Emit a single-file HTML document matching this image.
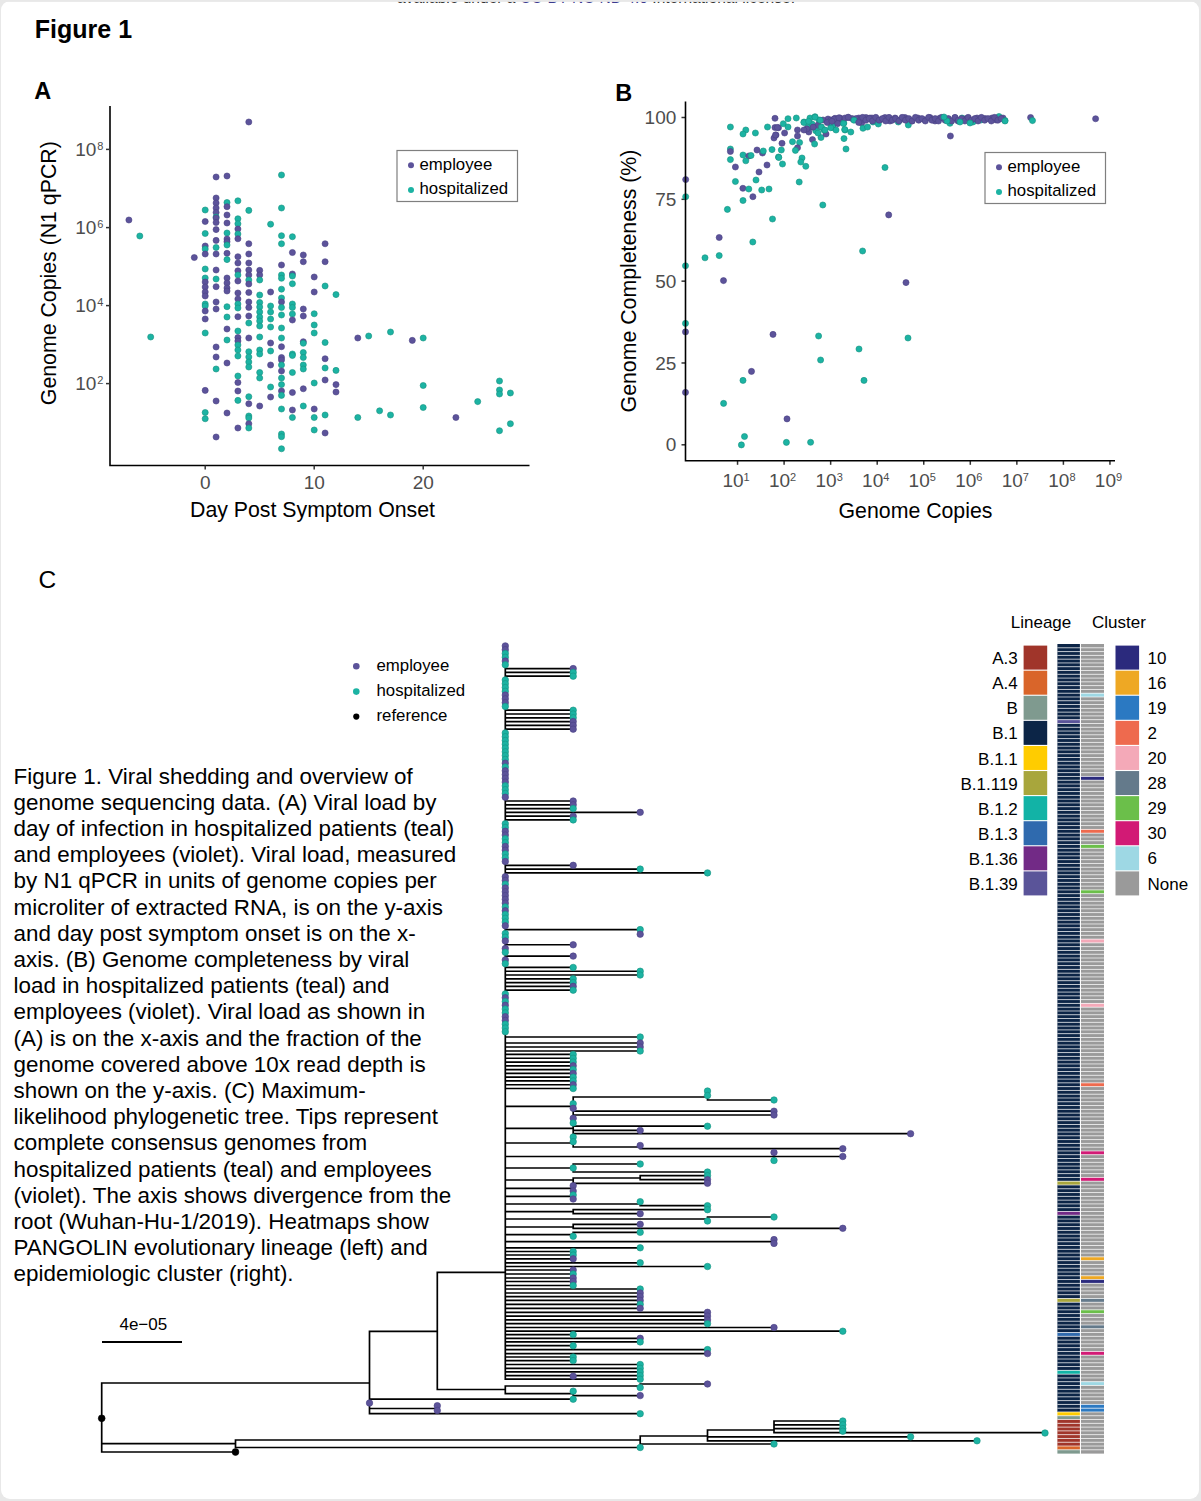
<!DOCTYPE html><html><head><meta charset="utf-8"><style>html,body{margin:0;padding:0;background:#e8e8e8;}body{width:1201px;height:1501px;overflow:hidden;position:relative;}#card{position:absolute;left:1px;top:1px;width:1198px;height:1498px;background:#fff;border-radius:9px;}svg{position:absolute;left:0;top:0;}text{font-family:"Liberation Sans",sans-serif;}</style></head><body><div id="card"></div>
<svg width="1201" height="1501" viewBox="0 0 1201 1501" font-family='"Liberation Sans", sans-serif'>
<text x="397" y="3.2" font-size="17" fill="#333" textLength="398" lengthAdjust="spacingAndGlyphs">available under a <tspan fill="#3b3b8f">CC-BY-NC-ND 4.0</tspan> International license.</text>
<rect x="0" y="0" width="1201" height="1.9" fill="#e8e8e8"/>
<text x="34.8" y="37.8" font-size="25" font-weight="bold">Figure 1</text>
<text x="34.2" y="99" font-size="23.5" font-weight="bold">A</text>
<text x="615.3" y="100.8" font-size="23.5" font-weight="bold">B</text>
<text x="38.4" y="588.2" font-size="24.5">C</text>
<g id="pa">
<path d="M110 106V465.5H529.5" fill="none" stroke="#000" stroke-width="1.6"/>
<path d="M106 149.4 H110" stroke="#333" stroke-width="1.5"/>
<text x="96.3" y="155.8" font-size="19" fill="#4d4d4d" text-anchor="end">10</text>
<text x="97.3" y="150" font-size="11" fill="#4d4d4d">8</text>
<path d="M106 227.6 H110" stroke="#333" stroke-width="1.5"/>
<text x="96.3" y="234" font-size="19" fill="#4d4d4d" text-anchor="end">10</text>
<text x="97.3" y="228.2" font-size="11" fill="#4d4d4d">6</text>
<path d="M106 305.6 H110" stroke="#333" stroke-width="1.5"/>
<text x="96.3" y="312" font-size="19" fill="#4d4d4d" text-anchor="end">10</text>
<text x="97.3" y="306.2" font-size="11" fill="#4d4d4d">4</text>
<path d="M106 383.6 H110" stroke="#333" stroke-width="1.5"/>
<text x="96.3" y="390" font-size="19" fill="#4d4d4d" text-anchor="end">10</text>
<text x="97.3" y="384.2" font-size="11" fill="#4d4d4d">2</text>
<path d="M205.2 465.5V469.5" stroke="#333" stroke-width="1.5"/>
<text x="205.2" y="488.8" font-size="19" fill="#4d4d4d" text-anchor="middle">0</text>
<path d="M314.2 465.5V469.5" stroke="#333" stroke-width="1.5"/>
<text x="314.2" y="488.8" font-size="19" fill="#4d4d4d" text-anchor="middle">10</text>
<path d="M423.2 465.5V469.5" stroke="#333" stroke-width="1.5"/>
<text x="423.2" y="488.8" font-size="19" fill="#4d4d4d" text-anchor="middle">20</text>
<text x="312.5" y="516.6" font-size="21.3" text-anchor="middle">Day Post Symptom Onset</text>
<text transform="translate(56.3 273.2) rotate(-90)" font-size="21.3" text-anchor="middle">Genome Copies (N1 qPCR)</text>
<circle cx="128.9" cy="220" r="3.05" fill="#5c539a" stroke="#4a4284" stroke-width="0.6"/>
<circle cx="139.8" cy="236" r="3.05" fill="#1cb3a3" stroke="#16927f" stroke-width="0.6"/>
<circle cx="150.7" cy="337" r="3.05" fill="#1cb3a3" stroke="#16927f" stroke-width="0.6"/>
<circle cx="194.3" cy="257.5" r="3.05" fill="#5c539a" stroke="#4a4284" stroke-width="0.6"/>
<circle cx="205.2" cy="210" r="3.05" fill="#1cb3a3" stroke="#16927f" stroke-width="0.6"/>
<circle cx="205.2" cy="221.5" r="3.05" fill="#5c539a" stroke="#4a4284" stroke-width="0.6"/>
<circle cx="205.2" cy="233.5" r="3.05" fill="#1cb3a3" stroke="#16927f" stroke-width="0.6"/>
<circle cx="205.2" cy="246" r="3.05" fill="#5c539a" stroke="#4a4284" stroke-width="0.6"/>
<circle cx="205.2" cy="249" r="3.05" fill="#1cb3a3" stroke="#16927f" stroke-width="0.6"/>
<circle cx="205.2" cy="254" r="3.05" fill="#5c539a" stroke="#4a4284" stroke-width="0.6"/>
<circle cx="205.2" cy="269" r="3.05" fill="#1cb3a3" stroke="#16927f" stroke-width="0.6"/>
<circle cx="205.2" cy="278" r="3.05" fill="#1cb3a3" stroke="#16927f" stroke-width="0.6"/>
<circle cx="205.2" cy="282" r="3.05" fill="#5c539a" stroke="#4a4284" stroke-width="0.6"/>
<circle cx="205.2" cy="287" r="3.05" fill="#5c539a" stroke="#4a4284" stroke-width="0.6"/>
<circle cx="205.2" cy="292" r="3.05" fill="#5c539a" stroke="#4a4284" stroke-width="0.6"/>
<circle cx="205.2" cy="296" r="3.05" fill="#5c539a" stroke="#4a4284" stroke-width="0.6"/>
<circle cx="205.2" cy="304" r="3.05" fill="#1cb3a3" stroke="#16927f" stroke-width="0.6"/>
<circle cx="205.2" cy="306" r="3.05" fill="#1cb3a3" stroke="#16927f" stroke-width="0.6"/>
<circle cx="205.2" cy="311" r="3.05" fill="#5c539a" stroke="#4a4284" stroke-width="0.6"/>
<circle cx="205.2" cy="319" r="3.05" fill="#5c539a" stroke="#4a4284" stroke-width="0.6"/>
<circle cx="205.2" cy="333" r="3.05" fill="#1cb3a3" stroke="#16927f" stroke-width="0.6"/>
<circle cx="205.2" cy="390.4" r="3.05" fill="#5c539a" stroke="#4a4284" stroke-width="0.6"/>
<circle cx="205.2" cy="412.5" r="3.05" fill="#1cb3a3" stroke="#16927f" stroke-width="0.6"/>
<circle cx="205.2" cy="418.75" r="3.05" fill="#1cb3a3" stroke="#16927f" stroke-width="0.6"/>
<circle cx="216.1" cy="177" r="3.05" fill="#5c539a" stroke="#4a4284" stroke-width="0.6"/>
<circle cx="216.1" cy="198" r="3.05" fill="#5c539a" stroke="#4a4284" stroke-width="0.6"/>
<circle cx="216.1" cy="203" r="3.05" fill="#5c539a" stroke="#4a4284" stroke-width="0.6"/>
<circle cx="216.1" cy="208" r="3.05" fill="#5c539a" stroke="#4a4284" stroke-width="0.6"/>
<circle cx="216.1" cy="212.5" r="3.05" fill="#5c539a" stroke="#4a4284" stroke-width="0.6"/>
<circle cx="216.1" cy="217" r="3.05" fill="#1cb3a3" stroke="#16927f" stroke-width="0.6"/>
<circle cx="216.1" cy="218" r="3.05" fill="#5c539a" stroke="#4a4284" stroke-width="0.6"/>
<circle cx="216.1" cy="222.5" r="3.05" fill="#5c539a" stroke="#4a4284" stroke-width="0.6"/>
<circle cx="216.1" cy="229.6" r="3.05" fill="#5c539a" stroke="#4a4284" stroke-width="0.6"/>
<circle cx="216.1" cy="240.4" r="3.05" fill="#5c539a" stroke="#4a4284" stroke-width="0.6"/>
<circle cx="216.1" cy="247.5" r="3.05" fill="#1cb3a3" stroke="#16927f" stroke-width="0.6"/>
<circle cx="216.1" cy="254" r="3.05" fill="#5c539a" stroke="#4a4284" stroke-width="0.6"/>
<circle cx="216.1" cy="270" r="3.05" fill="#5c539a" stroke="#4a4284" stroke-width="0.6"/>
<circle cx="216.1" cy="279" r="3.05" fill="#1cb3a3" stroke="#16927f" stroke-width="0.6"/>
<circle cx="216.1" cy="286.7" r="3.05" fill="#5c539a" stroke="#4a4284" stroke-width="0.6"/>
<circle cx="216.1" cy="302" r="3.05" fill="#5c539a" stroke="#4a4284" stroke-width="0.6"/>
<circle cx="216.1" cy="309" r="3.05" fill="#5c539a" stroke="#4a4284" stroke-width="0.6"/>
<circle cx="216.1" cy="347" r="3.05" fill="#5c539a" stroke="#4a4284" stroke-width="0.6"/>
<circle cx="216.1" cy="357" r="3.05" fill="#5c539a" stroke="#4a4284" stroke-width="0.6"/>
<circle cx="216.1" cy="369" r="3.05" fill="#1cb3a3" stroke="#16927f" stroke-width="0.6"/>
<circle cx="216.1" cy="401" r="3.05" fill="#5c539a" stroke="#4a4284" stroke-width="0.6"/>
<circle cx="216.1" cy="437" r="3.05" fill="#5c539a" stroke="#4a4284" stroke-width="0.6"/>
<circle cx="227" cy="176" r="3.05" fill="#5c539a" stroke="#4a4284" stroke-width="0.6"/>
<circle cx="227" cy="202.5" r="3.05" fill="#1cb3a3" stroke="#16927f" stroke-width="0.6"/>
<circle cx="227" cy="206.7" r="3.05" fill="#5c539a" stroke="#4a4284" stroke-width="0.6"/>
<circle cx="227" cy="215" r="3.05" fill="#5c539a" stroke="#4a4284" stroke-width="0.6"/>
<circle cx="227" cy="223" r="3.05" fill="#5c539a" stroke="#4a4284" stroke-width="0.6"/>
<circle cx="227" cy="233" r="3.05" fill="#1cb3a3" stroke="#16927f" stroke-width="0.6"/>
<circle cx="227" cy="239" r="3.05" fill="#5c539a" stroke="#4a4284" stroke-width="0.6"/>
<circle cx="227" cy="241.7" r="3.05" fill="#5c539a" stroke="#4a4284" stroke-width="0.6"/>
<circle cx="227" cy="245" r="3.05" fill="#1cb3a3" stroke="#16927f" stroke-width="0.6"/>
<circle cx="227" cy="253.3" r="3.05" fill="#5c539a" stroke="#4a4284" stroke-width="0.6"/>
<circle cx="227" cy="259.6" r="3.05" fill="#1cb3a3" stroke="#16927f" stroke-width="0.6"/>
<circle cx="227" cy="278" r="3.05" fill="#5c539a" stroke="#4a4284" stroke-width="0.6"/>
<circle cx="227" cy="283" r="3.05" fill="#5c539a" stroke="#4a4284" stroke-width="0.6"/>
<circle cx="227" cy="288" r="3.05" fill="#5c539a" stroke="#4a4284" stroke-width="0.6"/>
<circle cx="227" cy="291" r="3.05" fill="#5c539a" stroke="#4a4284" stroke-width="0.6"/>
<circle cx="227" cy="306.7" r="3.05" fill="#1cb3a3" stroke="#16927f" stroke-width="0.6"/>
<circle cx="227" cy="317" r="3.05" fill="#1cb3a3" stroke="#16927f" stroke-width="0.6"/>
<circle cx="227" cy="329" r="3.05" fill="#5c539a" stroke="#4a4284" stroke-width="0.6"/>
<circle cx="227" cy="340" r="3.05" fill="#1cb3a3" stroke="#16927f" stroke-width="0.6"/>
<circle cx="227" cy="363" r="3.05" fill="#5c539a" stroke="#4a4284" stroke-width="0.6"/>
<circle cx="227" cy="413" r="3.05" fill="#5c539a" stroke="#4a4284" stroke-width="0.6"/>
<circle cx="237.9" cy="200.8" r="3.05" fill="#1cb3a3" stroke="#16927f" stroke-width="0.6"/>
<circle cx="237.9" cy="218.75" r="3.05" fill="#1cb3a3" stroke="#16927f" stroke-width="0.6"/>
<circle cx="237.9" cy="223.75" r="3.05" fill="#1cb3a3" stroke="#16927f" stroke-width="0.6"/>
<circle cx="237.9" cy="229" r="3.05" fill="#5c539a" stroke="#4a4284" stroke-width="0.6"/>
<circle cx="237.9" cy="234" r="3.05" fill="#1cb3a3" stroke="#16927f" stroke-width="0.6"/>
<circle cx="237.9" cy="238.75" r="3.05" fill="#5c539a" stroke="#4a4284" stroke-width="0.6"/>
<circle cx="237.9" cy="256.7" r="3.05" fill="#5c539a" stroke="#4a4284" stroke-width="0.6"/>
<circle cx="237.9" cy="263" r="3.05" fill="#5c539a" stroke="#4a4284" stroke-width="0.6"/>
<circle cx="237.9" cy="270.8" r="3.05" fill="#5c539a" stroke="#4a4284" stroke-width="0.6"/>
<circle cx="237.9" cy="275" r="3.05" fill="#1cb3a3" stroke="#16927f" stroke-width="0.6"/>
<circle cx="237.9" cy="281" r="3.05" fill="#5c539a" stroke="#4a4284" stroke-width="0.6"/>
<circle cx="237.9" cy="293" r="3.05" fill="#5c539a" stroke="#4a4284" stroke-width="0.6"/>
<circle cx="237.9" cy="299" r="3.05" fill="#5c539a" stroke="#4a4284" stroke-width="0.6"/>
<circle cx="237.9" cy="304" r="3.05" fill="#1cb3a3" stroke="#16927f" stroke-width="0.6"/>
<circle cx="237.9" cy="308" r="3.05" fill="#1cb3a3" stroke="#16927f" stroke-width="0.6"/>
<circle cx="237.9" cy="316.7" r="3.05" fill="#5c539a" stroke="#4a4284" stroke-width="0.6"/>
<circle cx="237.9" cy="331" r="3.05" fill="#1cb3a3" stroke="#16927f" stroke-width="0.6"/>
<circle cx="237.9" cy="337.5" r="3.05" fill="#5c539a" stroke="#4a4284" stroke-width="0.6"/>
<circle cx="237.9" cy="341" r="3.05" fill="#5c539a" stroke="#4a4284" stroke-width="0.6"/>
<circle cx="237.9" cy="345" r="3.05" fill="#1cb3a3" stroke="#16927f" stroke-width="0.6"/>
<circle cx="237.9" cy="350" r="3.05" fill="#1cb3a3" stroke="#16927f" stroke-width="0.6"/>
<circle cx="237.9" cy="356" r="3.05" fill="#1cb3a3" stroke="#16927f" stroke-width="0.6"/>
<circle cx="237.9" cy="376" r="3.05" fill="#1cb3a3" stroke="#16927f" stroke-width="0.6"/>
<circle cx="237.9" cy="382.5" r="3.05" fill="#5c539a" stroke="#4a4284" stroke-width="0.6"/>
<circle cx="237.9" cy="391" r="3.05" fill="#5c539a" stroke="#4a4284" stroke-width="0.6"/>
<circle cx="237.9" cy="400.4" r="3.05" fill="#1cb3a3" stroke="#16927f" stroke-width="0.6"/>
<circle cx="237.9" cy="428" r="3.05" fill="#5c539a" stroke="#4a4284" stroke-width="0.6"/>
<circle cx="248.8" cy="122" r="3.05" fill="#5c539a" stroke="#4a4284" stroke-width="0.6"/>
<circle cx="248.8" cy="210.4" r="3.05" fill="#1cb3a3" stroke="#16927f" stroke-width="0.6"/>
<circle cx="248.8" cy="243.75" r="3.05" fill="#5c539a" stroke="#4a4284" stroke-width="0.6"/>
<circle cx="248.8" cy="254" r="3.05" fill="#5c539a" stroke="#4a4284" stroke-width="0.6"/>
<circle cx="248.8" cy="263" r="3.05" fill="#5c539a" stroke="#4a4284" stroke-width="0.6"/>
<circle cx="248.8" cy="270" r="3.05" fill="#5c539a" stroke="#4a4284" stroke-width="0.6"/>
<circle cx="248.8" cy="275" r="3.05" fill="#5c539a" stroke="#4a4284" stroke-width="0.6"/>
<circle cx="248.8" cy="280" r="3.05" fill="#1cb3a3" stroke="#16927f" stroke-width="0.6"/>
<circle cx="248.8" cy="284" r="3.05" fill="#5c539a" stroke="#4a4284" stroke-width="0.6"/>
<circle cx="248.8" cy="292.5" r="3.05" fill="#5c539a" stroke="#4a4284" stroke-width="0.6"/>
<circle cx="248.8" cy="302" r="3.05" fill="#5c539a" stroke="#4a4284" stroke-width="0.6"/>
<circle cx="248.8" cy="307.5" r="3.05" fill="#5c539a" stroke="#4a4284" stroke-width="0.6"/>
<circle cx="248.8" cy="316" r="3.05" fill="#5c539a" stroke="#4a4284" stroke-width="0.6"/>
<circle cx="248.8" cy="323" r="3.05" fill="#1cb3a3" stroke="#16927f" stroke-width="0.6"/>
<circle cx="248.8" cy="338" r="3.05" fill="#5c539a" stroke="#4a4284" stroke-width="0.6"/>
<circle cx="248.8" cy="351.7" r="3.05" fill="#1cb3a3" stroke="#16927f" stroke-width="0.6"/>
<circle cx="248.8" cy="357" r="3.05" fill="#1cb3a3" stroke="#16927f" stroke-width="0.6"/>
<circle cx="248.8" cy="362" r="3.05" fill="#1cb3a3" stroke="#16927f" stroke-width="0.6"/>
<circle cx="248.8" cy="367" r="3.05" fill="#1cb3a3" stroke="#16927f" stroke-width="0.6"/>
<circle cx="248.8" cy="396.7" r="3.05" fill="#1cb3a3" stroke="#16927f" stroke-width="0.6"/>
<circle cx="248.8" cy="403.75" r="3.05" fill="#5c539a" stroke="#4a4284" stroke-width="0.6"/>
<circle cx="248.8" cy="416" r="3.05" fill="#1cb3a3" stroke="#16927f" stroke-width="0.6"/>
<circle cx="248.8" cy="418" r="3.05" fill="#1cb3a3" stroke="#16927f" stroke-width="0.6"/>
<circle cx="248.8" cy="423.75" r="3.05" fill="#5c539a" stroke="#4a4284" stroke-width="0.6"/>
<circle cx="248.8" cy="428" r="3.05" fill="#1cb3a3" stroke="#16927f" stroke-width="0.6"/>
<circle cx="259.7" cy="270.4" r="3.05" fill="#5c539a" stroke="#4a4284" stroke-width="0.6"/>
<circle cx="259.7" cy="275" r="3.05" fill="#5c539a" stroke="#4a4284" stroke-width="0.6"/>
<circle cx="259.7" cy="280" r="3.05" fill="#1cb3a3" stroke="#16927f" stroke-width="0.6"/>
<circle cx="259.7" cy="295" r="3.05" fill="#1cb3a3" stroke="#16927f" stroke-width="0.6"/>
<circle cx="259.7" cy="302.5" r="3.05" fill="#1cb3a3" stroke="#16927f" stroke-width="0.6"/>
<circle cx="259.7" cy="307" r="3.05" fill="#1cb3a3" stroke="#16927f" stroke-width="0.6"/>
<circle cx="259.7" cy="312" r="3.05" fill="#1cb3a3" stroke="#16927f" stroke-width="0.6"/>
<circle cx="259.7" cy="317" r="3.05" fill="#1cb3a3" stroke="#16927f" stroke-width="0.6"/>
<circle cx="259.7" cy="321" r="3.05" fill="#1cb3a3" stroke="#16927f" stroke-width="0.6"/>
<circle cx="259.7" cy="326" r="3.05" fill="#1cb3a3" stroke="#16927f" stroke-width="0.6"/>
<circle cx="259.7" cy="337" r="3.05" fill="#1cb3a3" stroke="#16927f" stroke-width="0.6"/>
<circle cx="259.7" cy="350" r="3.05" fill="#1cb3a3" stroke="#16927f" stroke-width="0.6"/>
<circle cx="259.7" cy="354" r="3.05" fill="#1cb3a3" stroke="#16927f" stroke-width="0.6"/>
<circle cx="259.7" cy="372.5" r="3.05" fill="#1cb3a3" stroke="#16927f" stroke-width="0.6"/>
<circle cx="259.7" cy="378" r="3.05" fill="#1cb3a3" stroke="#16927f" stroke-width="0.6"/>
<circle cx="259.7" cy="406" r="3.05" fill="#5c539a" stroke="#4a4284" stroke-width="0.6"/>
<circle cx="270.6" cy="224.2" r="3.05" fill="#1cb3a3" stroke="#16927f" stroke-width="0.6"/>
<circle cx="270.6" cy="292" r="3.05" fill="#5c539a" stroke="#4a4284" stroke-width="0.6"/>
<circle cx="270.6" cy="306" r="3.05" fill="#1cb3a3" stroke="#16927f" stroke-width="0.6"/>
<circle cx="270.6" cy="312" r="3.05" fill="#1cb3a3" stroke="#16927f" stroke-width="0.6"/>
<circle cx="270.6" cy="319" r="3.05" fill="#1cb3a3" stroke="#16927f" stroke-width="0.6"/>
<circle cx="270.6" cy="327" r="3.05" fill="#1cb3a3" stroke="#16927f" stroke-width="0.6"/>
<circle cx="270.6" cy="343" r="3.05" fill="#5c539a" stroke="#4a4284" stroke-width="0.6"/>
<circle cx="270.6" cy="351" r="3.05" fill="#1cb3a3" stroke="#16927f" stroke-width="0.6"/>
<circle cx="270.6" cy="365" r="3.05" fill="#5c539a" stroke="#4a4284" stroke-width="0.6"/>
<circle cx="270.6" cy="387" r="3.05" fill="#1cb3a3" stroke="#16927f" stroke-width="0.6"/>
<circle cx="270.6" cy="397" r="3.05" fill="#5c539a" stroke="#4a4284" stroke-width="0.6"/>
<circle cx="281.5" cy="175" r="3.05" fill="#1cb3a3" stroke="#16927f" stroke-width="0.6"/>
<circle cx="281.5" cy="208" r="3.05" fill="#1cb3a3" stroke="#16927f" stroke-width="0.6"/>
<circle cx="281.5" cy="235.7" r="3.05" fill="#1cb3a3" stroke="#16927f" stroke-width="0.6"/>
<circle cx="281.5" cy="243.75" r="3.05" fill="#1cb3a3" stroke="#16927f" stroke-width="0.6"/>
<circle cx="281.5" cy="265" r="3.05" fill="#5c539a" stroke="#4a4284" stroke-width="0.6"/>
<circle cx="281.5" cy="275" r="3.05" fill="#1cb3a3" stroke="#16927f" stroke-width="0.6"/>
<circle cx="281.5" cy="278.3" r="3.05" fill="#1cb3a3" stroke="#16927f" stroke-width="0.6"/>
<circle cx="281.5" cy="289.2" r="3.05" fill="#1cb3a3" stroke="#16927f" stroke-width="0.6"/>
<circle cx="281.5" cy="298" r="3.05" fill="#1cb3a3" stroke="#16927f" stroke-width="0.6"/>
<circle cx="281.5" cy="302" r="3.05" fill="#5c539a" stroke="#4a4284" stroke-width="0.6"/>
<circle cx="281.5" cy="307.5" r="3.05" fill="#1cb3a3" stroke="#16927f" stroke-width="0.6"/>
<circle cx="281.5" cy="315" r="3.05" fill="#1cb3a3" stroke="#16927f" stroke-width="0.6"/>
<circle cx="281.5" cy="328" r="3.05" fill="#1cb3a3" stroke="#16927f" stroke-width="0.6"/>
<circle cx="281.5" cy="338" r="3.05" fill="#1cb3a3" stroke="#16927f" stroke-width="0.6"/>
<circle cx="281.5" cy="346.7" r="3.05" fill="#5c539a" stroke="#4a4284" stroke-width="0.6"/>
<circle cx="281.5" cy="357.5" r="3.05" fill="#5c539a" stroke="#4a4284" stroke-width="0.6"/>
<circle cx="281.5" cy="360" r="3.05" fill="#5c539a" stroke="#4a4284" stroke-width="0.6"/>
<circle cx="281.5" cy="365" r="3.05" fill="#1cb3a3" stroke="#16927f" stroke-width="0.6"/>
<circle cx="281.5" cy="371" r="3.05" fill="#5c539a" stroke="#4a4284" stroke-width="0.6"/>
<circle cx="281.5" cy="378" r="3.05" fill="#1cb3a3" stroke="#16927f" stroke-width="0.6"/>
<circle cx="281.5" cy="384.6" r="3.05" fill="#1cb3a3" stroke="#16927f" stroke-width="0.6"/>
<circle cx="281.5" cy="391" r="3.05" fill="#5c539a" stroke="#4a4284" stroke-width="0.6"/>
<circle cx="281.5" cy="395.4" r="3.05" fill="#1cb3a3" stroke="#16927f" stroke-width="0.6"/>
<circle cx="281.5" cy="409" r="3.05" fill="#1cb3a3" stroke="#16927f" stroke-width="0.6"/>
<circle cx="281.5" cy="434" r="3.05" fill="#1cb3a3" stroke="#16927f" stroke-width="0.6"/>
<circle cx="281.5" cy="436.7" r="3.05" fill="#1cb3a3" stroke="#16927f" stroke-width="0.6"/>
<circle cx="281.5" cy="448.75" r="3.05" fill="#1cb3a3" stroke="#16927f" stroke-width="0.6"/>
<circle cx="292.4" cy="236.7" r="3.05" fill="#1cb3a3" stroke="#16927f" stroke-width="0.6"/>
<circle cx="292.4" cy="252.5" r="3.05" fill="#5c539a" stroke="#4a4284" stroke-width="0.6"/>
<circle cx="292.4" cy="274" r="3.05" fill="#5c539a" stroke="#4a4284" stroke-width="0.6"/>
<circle cx="292.4" cy="276" r="3.05" fill="#1cb3a3" stroke="#16927f" stroke-width="0.6"/>
<circle cx="292.4" cy="283.75" r="3.05" fill="#1cb3a3" stroke="#16927f" stroke-width="0.6"/>
<circle cx="292.4" cy="304" r="3.05" fill="#1cb3a3" stroke="#16927f" stroke-width="0.6"/>
<circle cx="292.4" cy="307.5" r="3.05" fill="#1cb3a3" stroke="#16927f" stroke-width="0.6"/>
<circle cx="292.4" cy="314" r="3.05" fill="#1cb3a3" stroke="#16927f" stroke-width="0.6"/>
<circle cx="292.4" cy="320" r="3.05" fill="#5c539a" stroke="#4a4284" stroke-width="0.6"/>
<circle cx="292.4" cy="354" r="3.05" fill="#1cb3a3" stroke="#16927f" stroke-width="0.6"/>
<circle cx="292.4" cy="355.5" r="3.05" fill="#1cb3a3" stroke="#16927f" stroke-width="0.6"/>
<circle cx="292.4" cy="372.5" r="3.05" fill="#1cb3a3" stroke="#16927f" stroke-width="0.6"/>
<circle cx="292.4" cy="392.5" r="3.05" fill="#5c539a" stroke="#4a4284" stroke-width="0.6"/>
<circle cx="292.4" cy="410" r="3.05" fill="#5c539a" stroke="#4a4284" stroke-width="0.6"/>
<circle cx="292.4" cy="417.5" r="3.05" fill="#1cb3a3" stroke="#16927f" stroke-width="0.6"/>
<circle cx="303.3" cy="255" r="3.05" fill="#5c539a" stroke="#4a4284" stroke-width="0.6"/>
<circle cx="303.3" cy="261.7" r="3.05" fill="#5c539a" stroke="#4a4284" stroke-width="0.6"/>
<circle cx="303.3" cy="309" r="3.05" fill="#5c539a" stroke="#4a4284" stroke-width="0.6"/>
<circle cx="303.3" cy="316" r="3.05" fill="#5c539a" stroke="#4a4284" stroke-width="0.6"/>
<circle cx="303.3" cy="341.7" r="3.05" fill="#5c539a" stroke="#4a4284" stroke-width="0.6"/>
<circle cx="303.3" cy="343.3" r="3.05" fill="#1cb3a3" stroke="#16927f" stroke-width="0.6"/>
<circle cx="303.3" cy="352.5" r="3.05" fill="#1cb3a3" stroke="#16927f" stroke-width="0.6"/>
<circle cx="303.3" cy="357.5" r="3.05" fill="#1cb3a3" stroke="#16927f" stroke-width="0.6"/>
<circle cx="303.3" cy="365" r="3.05" fill="#1cb3a3" stroke="#16927f" stroke-width="0.6"/>
<circle cx="303.3" cy="369" r="3.05" fill="#1cb3a3" stroke="#16927f" stroke-width="0.6"/>
<circle cx="303.3" cy="388.75" r="3.05" fill="#5c539a" stroke="#4a4284" stroke-width="0.6"/>
<circle cx="303.3" cy="406" r="3.05" fill="#1cb3a3" stroke="#16927f" stroke-width="0.6"/>
<circle cx="314.2" cy="277" r="3.05" fill="#5c539a" stroke="#4a4284" stroke-width="0.6"/>
<circle cx="314.2" cy="292" r="3.05" fill="#5c539a" stroke="#4a4284" stroke-width="0.6"/>
<circle cx="314.2" cy="313.75" r="3.05" fill="#1cb3a3" stroke="#16927f" stroke-width="0.6"/>
<circle cx="314.2" cy="325" r="3.05" fill="#1cb3a3" stroke="#16927f" stroke-width="0.6"/>
<circle cx="314.2" cy="333" r="3.05" fill="#1cb3a3" stroke="#16927f" stroke-width="0.6"/>
<circle cx="314.2" cy="383" r="3.05" fill="#1cb3a3" stroke="#16927f" stroke-width="0.6"/>
<circle cx="314.2" cy="409" r="3.05" fill="#5c539a" stroke="#4a4284" stroke-width="0.6"/>
<circle cx="314.2" cy="417.5" r="3.05" fill="#1cb3a3" stroke="#16927f" stroke-width="0.6"/>
<circle cx="314.2" cy="430" r="3.05" fill="#1cb3a3" stroke="#16927f" stroke-width="0.6"/>
<circle cx="325.1" cy="243.75" r="3.05" fill="#5c539a" stroke="#4a4284" stroke-width="0.6"/>
<circle cx="325.1" cy="261.7" r="3.05" fill="#5c539a" stroke="#4a4284" stroke-width="0.6"/>
<circle cx="325.1" cy="286" r="3.05" fill="#1cb3a3" stroke="#16927f" stroke-width="0.6"/>
<circle cx="325.1" cy="342.5" r="3.05" fill="#1cb3a3" stroke="#16927f" stroke-width="0.6"/>
<circle cx="325.1" cy="358.75" r="3.05" fill="#5c539a" stroke="#4a4284" stroke-width="0.6"/>
<circle cx="325.1" cy="368" r="3.05" fill="#1cb3a3" stroke="#16927f" stroke-width="0.6"/>
<circle cx="325.1" cy="380" r="3.05" fill="#5c539a" stroke="#4a4284" stroke-width="0.6"/>
<circle cx="325.1" cy="415" r="3.05" fill="#1cb3a3" stroke="#16927f" stroke-width="0.6"/>
<circle cx="325.1" cy="433" r="3.05" fill="#5c539a" stroke="#4a4284" stroke-width="0.6"/>
<circle cx="336" cy="294.6" r="3.05" fill="#1cb3a3" stroke="#16927f" stroke-width="0.6"/>
<circle cx="336" cy="370.4" r="3.05" fill="#1cb3a3" stroke="#16927f" stroke-width="0.6"/>
<circle cx="336" cy="384.6" r="3.05" fill="#5c539a" stroke="#4a4284" stroke-width="0.6"/>
<circle cx="336" cy="392" r="3.05" fill="#5c539a" stroke="#4a4284" stroke-width="0.6"/>
<circle cx="357.8" cy="338" r="3.05" fill="#5c539a" stroke="#4a4284" stroke-width="0.6"/>
<circle cx="357.8" cy="417.5" r="3.05" fill="#1cb3a3" stroke="#16927f" stroke-width="0.6"/>
<circle cx="368.7" cy="336" r="3.05" fill="#1cb3a3" stroke="#16927f" stroke-width="0.6"/>
<circle cx="379.6" cy="410.8" r="3.05" fill="#1cb3a3" stroke="#16927f" stroke-width="0.6"/>
<circle cx="390.5" cy="332" r="3.05" fill="#1cb3a3" stroke="#16927f" stroke-width="0.6"/>
<circle cx="390.5" cy="415" r="3.05" fill="#1cb3a3" stroke="#16927f" stroke-width="0.6"/>
<circle cx="412.3" cy="340.4" r="3.05" fill="#5c539a" stroke="#4a4284" stroke-width="0.6"/>
<circle cx="423.2" cy="338" r="3.05" fill="#1cb3a3" stroke="#16927f" stroke-width="0.6"/>
<circle cx="423.2" cy="385.5" r="3.05" fill="#1cb3a3" stroke="#16927f" stroke-width="0.6"/>
<circle cx="423.2" cy="407.5" r="3.05" fill="#1cb3a3" stroke="#16927f" stroke-width="0.6"/>
<circle cx="455.9" cy="417.5" r="3.05" fill="#5c539a" stroke="#4a4284" stroke-width="0.6"/>
<circle cx="477.7" cy="401.6" r="3.05" fill="#1cb3a3" stroke="#16927f" stroke-width="0.6"/>
<circle cx="499.5" cy="381" r="3.05" fill="#1cb3a3" stroke="#16927f" stroke-width="0.6"/>
<circle cx="499.5" cy="390" r="3.05" fill="#1cb3a3" stroke="#16927f" stroke-width="0.6"/>
<circle cx="499.5" cy="394" r="3.05" fill="#1cb3a3" stroke="#16927f" stroke-width="0.6"/>
<circle cx="499.5" cy="430.7" r="3.05" fill="#1cb3a3" stroke="#16927f" stroke-width="0.6"/>
<circle cx="510.4" cy="393" r="3.05" fill="#1cb3a3" stroke="#16927f" stroke-width="0.6"/>
<circle cx="510.4" cy="423.7" r="3.05" fill="#1cb3a3" stroke="#16927f" stroke-width="0.6"/>
<rect x="397" y="150.5" width="120.5" height="51" fill="#fff" stroke="#7f7f7f" stroke-width="1.2"/>
<circle cx="411" cy="165.3" r="3" fill="#5c539a"/>
<circle cx="411" cy="190" r="3" fill="#1cb3a3"/>
<text x="419.5" y="169.5" font-size="16.8">employee</text>
<text x="419.5" y="193.5" font-size="16.8">hospitalized</text>
</g>
<g id="pb">
<path d="M681.5 444.8 H685.5" stroke="#333" stroke-width="1.5"/>
<text x="676.3" y="451.4" font-size="19" fill="#4d4d4d" text-anchor="end">0</text>
<path d="M681.5 362.98 H685.5" stroke="#333" stroke-width="1.5"/>
<text x="676.3" y="369.58" font-size="19" fill="#4d4d4d" text-anchor="end">25</text>
<path d="M681.5 281.15 H685.5" stroke="#333" stroke-width="1.5"/>
<text x="676.3" y="287.75" font-size="19" fill="#4d4d4d" text-anchor="end">50</text>
<path d="M681.5 199.32 H685.5" stroke="#333" stroke-width="1.5"/>
<text x="676.3" y="205.92" font-size="19" fill="#4d4d4d" text-anchor="end">75</text>
<path d="M681.5 117.5 H685.5" stroke="#333" stroke-width="1.5"/>
<text x="676.3" y="124.1" font-size="19" fill="#4d4d4d" text-anchor="end">100</text>
<path d="M737.55 460.8V464.8" stroke="#333" stroke-width="1.5"/>
<text x="736.05" y="487.4" font-size="19" fill="#4d4d4d" text-anchor="middle">10<tspan font-size="11" dy="-6.2">1</tspan></text>
<path d="M784.1 460.8V464.8" stroke="#333" stroke-width="1.5"/>
<text x="782.6" y="487.4" font-size="19" fill="#4d4d4d" text-anchor="middle">10<tspan font-size="11" dy="-6.2">2</tspan></text>
<path d="M830.65 460.8V464.8" stroke="#333" stroke-width="1.5"/>
<text x="829.15" y="487.4" font-size="19" fill="#4d4d4d" text-anchor="middle">10<tspan font-size="11" dy="-6.2">3</tspan></text>
<path d="M877.2 460.8V464.8" stroke="#333" stroke-width="1.5"/>
<text x="875.7" y="487.4" font-size="19" fill="#4d4d4d" text-anchor="middle">10<tspan font-size="11" dy="-6.2">4</tspan></text>
<path d="M923.75 460.8V464.8" stroke="#333" stroke-width="1.5"/>
<text x="922.25" y="487.4" font-size="19" fill="#4d4d4d" text-anchor="middle">10<tspan font-size="11" dy="-6.2">5</tspan></text>
<path d="M970.3 460.8V464.8" stroke="#333" stroke-width="1.5"/>
<text x="968.8" y="487.4" font-size="19" fill="#4d4d4d" text-anchor="middle">10<tspan font-size="11" dy="-6.2">6</tspan></text>
<path d="M1016.85 460.8V464.8" stroke="#333" stroke-width="1.5"/>
<text x="1015.35" y="487.4" font-size="19" fill="#4d4d4d" text-anchor="middle">10<tspan font-size="11" dy="-6.2">7</tspan></text>
<path d="M1063.4 460.8V464.8" stroke="#333" stroke-width="1.5"/>
<text x="1061.9" y="487.4" font-size="19" fill="#4d4d4d" text-anchor="middle">10<tspan font-size="11" dy="-6.2">8</tspan></text>
<path d="M1109.95 460.8V464.8" stroke="#333" stroke-width="1.5"/>
<text x="1108.45" y="487.4" font-size="19" fill="#4d4d4d" text-anchor="middle">10<tspan font-size="11" dy="-6.2">9</tspan></text>
<text x="915.5" y="517.8" font-size="21.3" text-anchor="middle">Genome Copies</text>
<text transform="translate(636.2 281) rotate(-90)" font-size="21.3" text-anchor="middle">Genome Completeness (%)</text>
<circle cx="730.4" cy="127" r="3.05" fill="#1cb3a3" stroke="#16927f" stroke-width="0.6"/>
<circle cx="745.8" cy="130" r="3.05" fill="#1cb3a3" stroke="#16927f" stroke-width="0.6"/>
<circle cx="743" cy="134" r="3.05" fill="#1cb3a3" stroke="#16927f" stroke-width="0.6"/>
<circle cx="755.4" cy="133" r="3.05" fill="#1cb3a3" stroke="#16927f" stroke-width="0.6"/>
<circle cx="767.5" cy="127" r="3.05" fill="#1cb3a3" stroke="#16927f" stroke-width="0.6"/>
<circle cx="775" cy="118.3" r="3.05" fill="#5c539a" stroke="#4a4284" stroke-width="0.6"/>
<circle cx="775" cy="127.5" r="3.05" fill="#5c539a" stroke="#4a4284" stroke-width="0.6"/>
<circle cx="778.5" cy="127.7" r="3.05" fill="#5c539a" stroke="#4a4284" stroke-width="0.6"/>
<circle cx="774" cy="138" r="3.05" fill="#5c539a" stroke="#4a4284" stroke-width="0.6"/>
<circle cx="776" cy="135" r="3.05" fill="#5c539a" stroke="#4a4284" stroke-width="0.6"/>
<circle cx="730.4" cy="149" r="3.05" fill="#1cb3a3" stroke="#16927f" stroke-width="0.6"/>
<circle cx="730.4" cy="151.5" r="3.05" fill="#5c539a" stroke="#4a4284" stroke-width="0.6"/>
<circle cx="743" cy="155" r="3.05" fill="#1cb3a3" stroke="#16927f" stroke-width="0.6"/>
<circle cx="748.8" cy="156" r="3.05" fill="#5c539a" stroke="#4a4284" stroke-width="0.6"/>
<circle cx="751" cy="155.5" r="3.05" fill="#1cb3a3" stroke="#16927f" stroke-width="0.6"/>
<circle cx="745.8" cy="160.8" r="3.05" fill="#1cb3a3" stroke="#16927f" stroke-width="0.6"/>
<circle cx="730.4" cy="159.6" r="3.05" fill="#1cb3a3" stroke="#16927f" stroke-width="0.6"/>
<circle cx="735.4" cy="167" r="3.05" fill="#5c539a" stroke="#4a4284" stroke-width="0.6"/>
<circle cx="757" cy="150" r="3.05" fill="#5c539a" stroke="#4a4284" stroke-width="0.6"/>
<circle cx="762.5" cy="153" r="3.05" fill="#5c539a" stroke="#4a4284" stroke-width="0.6"/>
<circle cx="763.3" cy="151" r="3.05" fill="#1cb3a3" stroke="#16927f" stroke-width="0.6"/>
<circle cx="772" cy="149.6" r="3.05" fill="#1cb3a3" stroke="#16927f" stroke-width="0.6"/>
<circle cx="778.5" cy="157" r="3.05" fill="#1cb3a3" stroke="#16927f" stroke-width="0.6"/>
<circle cx="767" cy="165" r="3.05" fill="#5c539a" stroke="#4a4284" stroke-width="0.6"/>
<circle cx="759" cy="172" r="3.05" fill="#5c539a" stroke="#4a4284" stroke-width="0.6"/>
<circle cx="756" cy="180" r="3.05" fill="#1cb3a3" stroke="#16927f" stroke-width="0.6"/>
<circle cx="735.4" cy="181.5" r="3.05" fill="#1cb3a3" stroke="#16927f" stroke-width="0.6"/>
<circle cx="742.9" cy="188.3" r="3.05" fill="#5c539a" stroke="#4a4284" stroke-width="0.6"/>
<circle cx="748.8" cy="189" r="3.05" fill="#1cb3a3" stroke="#16927f" stroke-width="0.6"/>
<circle cx="761.7" cy="190" r="3.05" fill="#1cb3a3" stroke="#16927f" stroke-width="0.6"/>
<circle cx="769" cy="189" r="3.05" fill="#1cb3a3" stroke="#16927f" stroke-width="0.6"/>
<circle cx="752.9" cy="196.7" r="3.05" fill="#5c539a" stroke="#4a4284" stroke-width="0.6"/>
<circle cx="743" cy="200.5" r="3.05" fill="#1cb3a3" stroke="#16927f" stroke-width="0.6"/>
<circle cx="685.7" cy="179.6" r="3.05" fill="#5c539a" stroke="#4a4284" stroke-width="0.6"/>
<circle cx="685.7" cy="196.7" r="3.05" fill="#1cb3a3" stroke="#16927f" stroke-width="0.6"/>
<circle cx="788" cy="118.7" r="3.05" fill="#1cb3a3" stroke="#16927f" stroke-width="0.6"/>
<circle cx="796.3" cy="118" r="3.05" fill="#1cb3a3" stroke="#16927f" stroke-width="0.6"/>
<circle cx="783.3" cy="123.7" r="3.05" fill="#1cb3a3" stroke="#16927f" stroke-width="0.6"/>
<circle cx="788" cy="127" r="3.05" fill="#1cb3a3" stroke="#16927f" stroke-width="0.6"/>
<circle cx="777.5" cy="127.5" r="3.05" fill="#5c539a" stroke="#4a4284" stroke-width="0.6"/>
<circle cx="775.5" cy="135" r="3.05" fill="#5c539a" stroke="#4a4284" stroke-width="0.6"/>
<circle cx="784.6" cy="133" r="3.05" fill="#5c539a" stroke="#4a4284" stroke-width="0.6"/>
<circle cx="782" cy="143.3" r="3.05" fill="#5c539a" stroke="#4a4284" stroke-width="0.6"/>
<circle cx="781.3" cy="150" r="3.05" fill="#1cb3a3" stroke="#16927f" stroke-width="0.6"/>
<circle cx="778.8" cy="157.5" r="3.05" fill="#1cb3a3" stroke="#16927f" stroke-width="0.6"/>
<circle cx="782.5" cy="164" r="3.05" fill="#1cb3a3" stroke="#16927f" stroke-width="0.6"/>
<circle cx="792.5" cy="141.7" r="3.05" fill="#1cb3a3" stroke="#16927f" stroke-width="0.6"/>
<circle cx="799.6" cy="142.5" r="3.05" fill="#1cb3a3" stroke="#16927f" stroke-width="0.6"/>
<circle cx="797.5" cy="147.8" r="3.05" fill="#5c539a" stroke="#4a4284" stroke-width="0.6"/>
<circle cx="795.4" cy="150.4" r="3.05" fill="#1cb3a3" stroke="#16927f" stroke-width="0.6"/>
<circle cx="797.5" cy="130" r="3.05" fill="#5c539a" stroke="#4a4284" stroke-width="0.6"/>
<circle cx="797.5" cy="136" r="3.05" fill="#5c539a" stroke="#4a4284" stroke-width="0.6"/>
<circle cx="802" cy="158" r="3.05" fill="#1cb3a3" stroke="#16927f" stroke-width="0.6"/>
<circle cx="800.8" cy="162" r="3.05" fill="#1cb3a3" stroke="#16927f" stroke-width="0.6"/>
<circle cx="805.8" cy="166.3" r="3.05" fill="#1cb3a3" stroke="#16927f" stroke-width="0.6"/>
<circle cx="799.2" cy="182" r="3.05" fill="#1cb3a3" stroke="#16927f" stroke-width="0.6"/>
<circle cx="804" cy="122" r="3.05" fill="#1cb3a3" stroke="#16927f" stroke-width="0.6"/>
<circle cx="810" cy="118" r="3.05" fill="#1cb3a3" stroke="#16927f" stroke-width="0.6"/>
<circle cx="815" cy="116.7" r="3.05" fill="#1cb3a3" stroke="#16927f" stroke-width="0.6"/>
<circle cx="819" cy="120" r="3.05" fill="#1cb3a3" stroke="#16927f" stroke-width="0.6"/>
<circle cx="807.5" cy="130" r="3.05" fill="#5c539a" stroke="#4a4284" stroke-width="0.6"/>
<circle cx="808.8" cy="132" r="3.05" fill="#5c539a" stroke="#4a4284" stroke-width="0.6"/>
<circle cx="813" cy="127" r="3.05" fill="#5c539a" stroke="#4a4284" stroke-width="0.6"/>
<circle cx="815.8" cy="130.8" r="3.05" fill="#1cb3a3" stroke="#16927f" stroke-width="0.6"/>
<circle cx="821" cy="127" r="3.05" fill="#1cb3a3" stroke="#16927f" stroke-width="0.6"/>
<circle cx="812.5" cy="139.6" r="3.05" fill="#5c539a" stroke="#4a4284" stroke-width="0.6"/>
<circle cx="814.6" cy="144" r="3.05" fill="#1cb3a3" stroke="#16927f" stroke-width="0.6"/>
<circle cx="821" cy="137.5" r="3.05" fill="#1cb3a3" stroke="#16927f" stroke-width="0.6"/>
<circle cx="826" cy="134" r="3.05" fill="#5c539a" stroke="#4a4284" stroke-width="0.6"/>
<circle cx="829" cy="122" r="3.05" fill="#1cb3a3" stroke="#16927f" stroke-width="0.6"/>
<circle cx="828" cy="119" r="3.05" fill="#5c539a" stroke="#4a4284" stroke-width="0.6"/>
<circle cx="832.5" cy="127.5" r="3.05" fill="#1cb3a3" stroke="#16927f" stroke-width="0.6"/>
<circle cx="835" cy="118.3" r="3.05" fill="#5c539a" stroke="#4a4284" stroke-width="0.6"/>
<circle cx="840" cy="118" r="3.05" fill="#5c539a" stroke="#4a4284" stroke-width="0.6"/>
<circle cx="842" cy="122" r="3.05" fill="#5c539a" stroke="#4a4284" stroke-width="0.6"/>
<circle cx="837.5" cy="123" r="3.05" fill="#5c539a" stroke="#4a4284" stroke-width="0.6"/>
<circle cx="843.8" cy="123" r="3.05" fill="#1cb3a3" stroke="#16927f" stroke-width="0.6"/>
<circle cx="845" cy="130" r="3.05" fill="#1cb3a3" stroke="#16927f" stroke-width="0.6"/>
<circle cx="850.8" cy="132" r="3.05" fill="#1cb3a3" stroke="#16927f" stroke-width="0.6"/>
<circle cx="844" cy="138.6" r="3.05" fill="#1cb3a3" stroke="#16927f" stroke-width="0.6"/>
<circle cx="846" cy="149" r="3.05" fill="#1cb3a3" stroke="#16927f" stroke-width="0.6"/>
<circle cx="848.3" cy="117.5" r="3.05" fill="#5c539a" stroke="#4a4284" stroke-width="0.6"/>
<circle cx="853.8" cy="119.6" r="3.05" fill="#1cb3a3" stroke="#16927f" stroke-width="0.6"/>
<circle cx="858.8" cy="118" r="3.05" fill="#5c539a" stroke="#4a4284" stroke-width="0.6"/>
<circle cx="861.7" cy="123" r="3.05" fill="#5c539a" stroke="#4a4284" stroke-width="0.6"/>
<circle cx="866" cy="117.5" r="3.05" fill="#5c539a" stroke="#4a4284" stroke-width="0.6"/>
<circle cx="870" cy="118" r="3.05" fill="#5c539a" stroke="#4a4284" stroke-width="0.6"/>
<circle cx="873" cy="120" r="3.05" fill="#5c539a" stroke="#4a4284" stroke-width="0.6"/>
<circle cx="863" cy="128.3" r="3.05" fill="#1cb3a3" stroke="#16927f" stroke-width="0.6"/>
<circle cx="867.5" cy="127" r="3.05" fill="#1cb3a3" stroke="#16927f" stroke-width="0.6"/>
<circle cx="873" cy="122" r="3.05" fill="#1cb3a3" stroke="#16927f" stroke-width="0.6"/>
<circle cx="872" cy="118" r="3.05" fill="#5c539a" stroke="#4a4284" stroke-width="0.6"/>
<circle cx="880" cy="120" r="3.05" fill="#5c539a" stroke="#4a4284" stroke-width="0.6"/>
<circle cx="885" cy="117.5" r="3.05" fill="#5c539a" stroke="#4a4284" stroke-width="0.6"/>
<circle cx="890" cy="121" r="3.05" fill="#5c539a" stroke="#4a4284" stroke-width="0.6"/>
<circle cx="895" cy="118" r="3.05" fill="#5c539a" stroke="#4a4284" stroke-width="0.6"/>
<circle cx="900" cy="120" r="3.05" fill="#5c539a" stroke="#4a4284" stroke-width="0.6"/>
<circle cx="905" cy="117.5" r="3.05" fill="#5c539a" stroke="#4a4284" stroke-width="0.6"/>
<circle cx="912" cy="121" r="3.05" fill="#5c539a" stroke="#4a4284" stroke-width="0.6"/>
<circle cx="918" cy="118" r="3.05" fill="#5c539a" stroke="#4a4284" stroke-width="0.6"/>
<circle cx="925" cy="120" r="3.05" fill="#5c539a" stroke="#4a4284" stroke-width="0.6"/>
<circle cx="930" cy="117.5" r="3.05" fill="#5c539a" stroke="#4a4284" stroke-width="0.6"/>
<circle cx="935" cy="121" r="3.05" fill="#5c539a" stroke="#4a4284" stroke-width="0.6"/>
<circle cx="940" cy="118" r="3.05" fill="#5c539a" stroke="#4a4284" stroke-width="0.6"/>
<circle cx="948" cy="119" r="3.05" fill="#5c539a" stroke="#4a4284" stroke-width="0.6"/>
<circle cx="955" cy="118" r="3.05" fill="#5c539a" stroke="#4a4284" stroke-width="0.6"/>
<circle cx="965" cy="119" r="3.05" fill="#5c539a" stroke="#4a4284" stroke-width="0.6"/>
<circle cx="958" cy="121" r="3.05" fill="#5c539a" stroke="#4a4284" stroke-width="0.6"/>
<circle cx="878.3" cy="124" r="3.05" fill="#1cb3a3" stroke="#16927f" stroke-width="0.6"/>
<circle cx="898.3" cy="122" r="3.05" fill="#1cb3a3" stroke="#16927f" stroke-width="0.6"/>
<circle cx="908.3" cy="125" r="3.05" fill="#1cb3a3" stroke="#16927f" stroke-width="0.6"/>
<circle cx="950" cy="123.3" r="3.05" fill="#1cb3a3" stroke="#16927f" stroke-width="0.6"/>
<circle cx="962" cy="118" r="3.05" fill="#1cb3a3" stroke="#16927f" stroke-width="0.6"/>
<circle cx="950.4" cy="136" r="3.05" fill="#5c539a" stroke="#4a4284" stroke-width="0.6"/>
<circle cx="967" cy="118.5" r="3.05" fill="#5c539a" stroke="#4a4284" stroke-width="0.6"/>
<circle cx="973" cy="122" r="3.05" fill="#1cb3a3" stroke="#16927f" stroke-width="0.6"/>
<circle cx="977" cy="118" r="3.05" fill="#5c539a" stroke="#4a4284" stroke-width="0.6"/>
<circle cx="981" cy="120" r="3.05" fill="#1cb3a3" stroke="#16927f" stroke-width="0.6"/>
<circle cx="985" cy="118.5" r="3.05" fill="#5c539a" stroke="#4a4284" stroke-width="0.6"/>
<circle cx="992" cy="118" r="3.05" fill="#5c539a" stroke="#4a4284" stroke-width="0.6"/>
<circle cx="996" cy="120" r="3.05" fill="#5c539a" stroke="#4a4284" stroke-width="0.6"/>
<circle cx="999" cy="116.5" r="3.05" fill="#1cb3a3" stroke="#16927f" stroke-width="0.6"/>
<circle cx="1003" cy="118" r="3.05" fill="#5c539a" stroke="#4a4284" stroke-width="0.6"/>
<circle cx="1005" cy="120.5" r="3.05" fill="#1cb3a3" stroke="#16927f" stroke-width="0.6"/>
<circle cx="1030.6" cy="117.5" r="3.05" fill="#5c539a" stroke="#4a4284" stroke-width="0.6"/>
<circle cx="1032.5" cy="120.6" r="3.05" fill="#1cb3a3" stroke="#16927f" stroke-width="0.6"/>
<circle cx="1095.6" cy="118.75" r="3.05" fill="#5c539a" stroke="#4a4284" stroke-width="0.6"/>
<circle cx="727.4" cy="209.4" r="3.05" fill="#1cb3a3" stroke="#16927f" stroke-width="0.6"/>
<circle cx="772.5" cy="219" r="3.05" fill="#1cb3a3" stroke="#16927f" stroke-width="0.6"/>
<circle cx="822.8" cy="205" r="3.05" fill="#1cb3a3" stroke="#16927f" stroke-width="0.6"/>
<circle cx="719.2" cy="237.5" r="3.05" fill="#5c539a" stroke="#4a4284" stroke-width="0.6"/>
<circle cx="752.8" cy="242" r="3.05" fill="#1cb3a3" stroke="#16927f" stroke-width="0.6"/>
<circle cx="705" cy="257.8" r="3.05" fill="#1cb3a3" stroke="#16927f" stroke-width="0.6"/>
<circle cx="719.2" cy="255.6" r="3.05" fill="#1cb3a3" stroke="#16927f" stroke-width="0.6"/>
<circle cx="685.5" cy="265.8" r="3.05" fill="#1cb3a3" stroke="#16927f" stroke-width="0.6"/>
<circle cx="723.5" cy="280.6" r="3.05" fill="#5c539a" stroke="#4a4284" stroke-width="0.6"/>
<circle cx="685.5" cy="323.4" r="3.05" fill="#1cb3a3" stroke="#16927f" stroke-width="0.6"/>
<circle cx="685.5" cy="331.9" r="3.05" fill="#5c539a" stroke="#4a4284" stroke-width="0.6"/>
<circle cx="773" cy="334.4" r="3.05" fill="#5c539a" stroke="#4a4284" stroke-width="0.6"/>
<circle cx="818.6" cy="336" r="3.05" fill="#1cb3a3" stroke="#16927f" stroke-width="0.6"/>
<circle cx="820.6" cy="360" r="3.05" fill="#1cb3a3" stroke="#16927f" stroke-width="0.6"/>
<circle cx="751.5" cy="371.4" r="3.05" fill="#5c539a" stroke="#4a4284" stroke-width="0.6"/>
<circle cx="743" cy="380.4" r="3.05" fill="#1cb3a3" stroke="#16927f" stroke-width="0.6"/>
<circle cx="685.5" cy="392.4" r="3.05" fill="#5c539a" stroke="#4a4284" stroke-width="0.6"/>
<circle cx="723.6" cy="403.4" r="3.05" fill="#1cb3a3" stroke="#16927f" stroke-width="0.6"/>
<circle cx="787" cy="418.9" r="3.05" fill="#5c539a" stroke="#4a4284" stroke-width="0.6"/>
<circle cx="744.5" cy="436.5" r="3.05" fill="#1cb3a3" stroke="#16927f" stroke-width="0.6"/>
<circle cx="741.4" cy="444.9" r="3.05" fill="#1cb3a3" stroke="#16927f" stroke-width="0.6"/>
<circle cx="786.4" cy="442.4" r="3.05" fill="#1cb3a3" stroke="#16927f" stroke-width="0.6"/>
<circle cx="810.6" cy="442.3" r="3.05" fill="#1cb3a3" stroke="#16927f" stroke-width="0.6"/>
<circle cx="888.7" cy="214.9" r="3.05" fill="#5c539a" stroke="#4a4284" stroke-width="0.6"/>
<circle cx="862.6" cy="251" r="3.05" fill="#1cb3a3" stroke="#16927f" stroke-width="0.6"/>
<circle cx="906" cy="282.6" r="3.05" fill="#5c539a" stroke="#4a4284" stroke-width="0.6"/>
<circle cx="908" cy="338" r="3.05" fill="#1cb3a3" stroke="#16927f" stroke-width="0.6"/>
<circle cx="859" cy="349" r="3.05" fill="#1cb3a3" stroke="#16927f" stroke-width="0.6"/>
<circle cx="864" cy="380.4" r="3.05" fill="#1cb3a3" stroke="#16927f" stroke-width="0.6"/>
<circle cx="885" cy="167.5" r="3.05" fill="#1cb3a3" stroke="#16927f" stroke-width="0.6"/>
<circle cx="856.0" cy="118.6" r="3.05" fill="#5c539a" stroke="#4a4284" stroke-width="0.6"/>
<circle cx="859.3" cy="121.0" r="3.05" fill="#5c539a" stroke="#4a4284" stroke-width="0.6"/>
<circle cx="862.6" cy="117.4" r="3.05" fill="#5c539a" stroke="#4a4284" stroke-width="0.6"/>
<circle cx="865.9" cy="120.2" r="3.05" fill="#5c539a" stroke="#4a4284" stroke-width="0.6"/>
<circle cx="869.2" cy="118.6" r="3.05" fill="#5c539a" stroke="#4a4284" stroke-width="0.6"/>
<circle cx="872.5" cy="121.0" r="3.05" fill="#5c539a" stroke="#4a4284" stroke-width="0.6"/>
<circle cx="875.8" cy="117.4" r="3.05" fill="#5c539a" stroke="#4a4284" stroke-width="0.6"/>
<circle cx="879.1" cy="120.2" r="3.05" fill="#5c539a" stroke="#4a4284" stroke-width="0.6"/>
<circle cx="882.4" cy="118.6" r="3.05" fill="#5c539a" stroke="#4a4284" stroke-width="0.6"/>
<circle cx="885.7" cy="121.0" r="3.05" fill="#5c539a" stroke="#4a4284" stroke-width="0.6"/>
<circle cx="889.0" cy="117.4" r="3.05" fill="#5c539a" stroke="#4a4284" stroke-width="0.6"/>
<circle cx="892.3" cy="120.2" r="3.05" fill="#5c539a" stroke="#4a4284" stroke-width="0.6"/>
<circle cx="895.6" cy="118.6" r="3.05" fill="#5c539a" stroke="#4a4284" stroke-width="0.6"/>
<circle cx="898.9" cy="121.0" r="3.05" fill="#5c539a" stroke="#4a4284" stroke-width="0.6"/>
<circle cx="902.2" cy="117.4" r="3.05" fill="#5c539a" stroke="#4a4284" stroke-width="0.6"/>
<circle cx="905.5" cy="120.2" r="3.05" fill="#5c539a" stroke="#4a4284" stroke-width="0.6"/>
<circle cx="908.8" cy="118.6" r="3.05" fill="#5c539a" stroke="#4a4284" stroke-width="0.6"/>
<circle cx="912.1" cy="121.0" r="3.05" fill="#5c539a" stroke="#4a4284" stroke-width="0.6"/>
<circle cx="915.4" cy="117.4" r="3.05" fill="#5c539a" stroke="#4a4284" stroke-width="0.6"/>
<circle cx="918.7" cy="120.2" r="3.05" fill="#5c539a" stroke="#4a4284" stroke-width="0.6"/>
<circle cx="922.0" cy="118.6" r="3.05" fill="#5c539a" stroke="#4a4284" stroke-width="0.6"/>
<circle cx="925.3" cy="121.0" r="3.05" fill="#5c539a" stroke="#4a4284" stroke-width="0.6"/>
<circle cx="928.6" cy="117.4" r="3.05" fill="#5c539a" stroke="#4a4284" stroke-width="0.6"/>
<circle cx="931.9" cy="120.2" r="3.05" fill="#5c539a" stroke="#4a4284" stroke-width="0.6"/>
<circle cx="935.2" cy="118.6" r="3.05" fill="#5c539a" stroke="#4a4284" stroke-width="0.6"/>
<circle cx="938.5" cy="121.0" r="3.05" fill="#5c539a" stroke="#4a4284" stroke-width="0.6"/>
<circle cx="941.8" cy="117.4" r="3.05" fill="#5c539a" stroke="#4a4284" stroke-width="0.6"/>
<circle cx="945.1" cy="120.2" r="3.05" fill="#5c539a" stroke="#4a4284" stroke-width="0.6"/>
<circle cx="948.4" cy="118.6" r="3.05" fill="#5c539a" stroke="#4a4284" stroke-width="0.6"/>
<circle cx="951.7" cy="121.0" r="3.05" fill="#5c539a" stroke="#4a4284" stroke-width="0.6"/>
<circle cx="955.0" cy="117.4" r="3.05" fill="#5c539a" stroke="#4a4284" stroke-width="0.6"/>
<circle cx="958.3" cy="120.2" r="3.05" fill="#5c539a" stroke="#4a4284" stroke-width="0.6"/>
<circle cx="961.6" cy="118.6" r="3.05" fill="#5c539a" stroke="#4a4284" stroke-width="0.6"/>
<circle cx="964.9" cy="121.0" r="3.05" fill="#5c539a" stroke="#4a4284" stroke-width="0.6"/>
<circle cx="968.2" cy="117.4" r="3.05" fill="#5c539a" stroke="#4a4284" stroke-width="0.6"/>
<circle cx="971.5" cy="120.2" r="3.05" fill="#5c539a" stroke="#4a4284" stroke-width="0.6"/>
<circle cx="974.8" cy="118.6" r="3.05" fill="#5c539a" stroke="#4a4284" stroke-width="0.6"/>
<circle cx="978.1" cy="121.0" r="3.05" fill="#5c539a" stroke="#4a4284" stroke-width="0.6"/>
<circle cx="981.4" cy="117.4" r="3.05" fill="#5c539a" stroke="#4a4284" stroke-width="0.6"/>
<circle cx="984.7" cy="120.2" r="3.05" fill="#5c539a" stroke="#4a4284" stroke-width="0.6"/>
<circle cx="988.0" cy="118.6" r="3.05" fill="#5c539a" stroke="#4a4284" stroke-width="0.6"/>
<circle cx="991.3" cy="121.0" r="3.05" fill="#5c539a" stroke="#4a4284" stroke-width="0.6"/>
<circle cx="994.6" cy="117.4" r="3.05" fill="#5c539a" stroke="#4a4284" stroke-width="0.6"/>
<circle cx="997.9" cy="120.2" r="3.05" fill="#5c539a" stroke="#4a4284" stroke-width="0.6"/>
<circle cx="1001.2" cy="118.6" r="3.05" fill="#5c539a" stroke="#4a4284" stroke-width="0.6"/>
<circle cx="808" cy="127" r="3.05" fill="#1cb3a3" stroke="#16927f" stroke-width="0.6"/>
<circle cx="812" cy="124" r="3.05" fill="#1cb3a3" stroke="#16927f" stroke-width="0.6"/>
<circle cx="818" cy="133" r="3.05" fill="#1cb3a3" stroke="#16927f" stroke-width="0.6"/>
<circle cx="824" cy="130" r="3.05" fill="#1cb3a3" stroke="#16927f" stroke-width="0.6"/>
<circle cx="833" cy="125" r="3.05" fill="#1cb3a3" stroke="#16927f" stroke-width="0.6"/>
<circle cx="836" cy="130" r="3.05" fill="#1cb3a3" stroke="#16927f" stroke-width="0.6"/>
<circle cx="818" cy="125" r="3.05" fill="#5c539a" stroke="#4a4284" stroke-width="0.6"/>
<circle cx="823" cy="120" r="3.05" fill="#5c539a" stroke="#4a4284" stroke-width="0.6"/>
<circle cx="831" cy="120" r="3.05" fill="#5c539a" stroke="#4a4284" stroke-width="0.6"/>
<circle cx="845" cy="118" r="3.05" fill="#5c539a" stroke="#4a4284" stroke-width="0.6"/>
<circle cx="852" cy="118.5" r="3.05" fill="#5c539a" stroke="#4a4284" stroke-width="0.6"/>
<circle cx="947" cy="121" r="3.05" fill="#1cb3a3" stroke="#16927f" stroke-width="0.6"/>
<circle cx="960" cy="122" r="3.05" fill="#1cb3a3" stroke="#16927f" stroke-width="0.6"/>
<circle cx="970" cy="123" r="3.05" fill="#1cb3a3" stroke="#16927f" stroke-width="0.6"/>
<circle cx="1005" cy="121" r="3.05" fill="#1cb3a3" stroke="#16927f" stroke-width="0.6"/>
<circle cx="944" cy="117" r="3.05" fill="#1cb3a3" stroke="#16927f" stroke-width="0.6"/>
<circle cx="806.8" cy="128.9" r="3.05" fill="#5c539a" stroke="#4a4284" stroke-width="0.6"/>
<circle cx="813.2" cy="127.1" r="3.05" fill="#5c539a" stroke="#4a4284" stroke-width="0.6"/>
<circle cx="803.9" cy="130" r="3.05" fill="#5c539a" stroke="#4a4284" stroke-width="0.6"/>
<circle cx="803.9" cy="122.5" r="3.05" fill="#1cb3a3" stroke="#16927f" stroke-width="0.6"/>
<circle cx="808.6" cy="121.3" r="3.05" fill="#1cb3a3" stroke="#16927f" stroke-width="0.6"/>
<circle cx="815" cy="117.2" r="3.05" fill="#1cb3a3" stroke="#16927f" stroke-width="0.6"/>
<circle cx="820.2" cy="120.2" r="3.05" fill="#1cb3a3" stroke="#16927f" stroke-width="0.6"/>
<circle cx="821.4" cy="127.1" r="3.05" fill="#1cb3a3" stroke="#16927f" stroke-width="0.6"/>
<circle cx="824.9" cy="130" r="3.05" fill="#1cb3a3" stroke="#16927f" stroke-width="0.6"/>
<circle cx="830.7" cy="127.7" r="3.05" fill="#1cb3a3" stroke="#16927f" stroke-width="0.6"/>
<circle cx="829.6" cy="122.5" r="3.05" fill="#1cb3a3" stroke="#16927f" stroke-width="0.6"/>
<circle cx="827.2" cy="122.5" r="3.05" fill="#5c539a" stroke="#4a4284" stroke-width="0.6"/>
<circle cx="834.2" cy="119" r="3.05" fill="#5c539a" stroke="#4a4284" stroke-width="0.6"/>
<circle cx="838.9" cy="117.8" r="3.05" fill="#5c539a" stroke="#4a4284" stroke-width="0.6"/>
<circle cx="837.7" cy="123.6" r="3.05" fill="#5c539a" stroke="#4a4284" stroke-width="0.6"/>
<circle cx="831.9" cy="121.3" r="3.05" fill="#5c539a" stroke="#4a4284" stroke-width="0.6"/>
<circle cx="843.5" cy="123.6" r="3.05" fill="#1cb3a3" stroke="#16927f" stroke-width="0.6"/>
<circle cx="844.7" cy="129.5" r="3.05" fill="#1cb3a3" stroke="#16927f" stroke-width="0.6"/>
<circle cx="848.2" cy="117.2" r="3.05" fill="#5c539a" stroke="#4a4284" stroke-width="0.6"/>
<circle cx="854" cy="120.2" r="3.05" fill="#1cb3a3" stroke="#16927f" stroke-width="0.6"/>
<circle cx="858.7" cy="122.5" r="3.05" fill="#5c539a" stroke="#4a4284" stroke-width="0.6"/>
<path d="M685.5 101.5V460.8H1115" fill="none" stroke="#000" stroke-width="1.6"/>
<rect x="985" y="152.5" width="120.5" height="51" fill="#fff" stroke="#7f7f7f" stroke-width="1.2"/>
<circle cx="999" cy="167.3" r="3" fill="#5c539a"/>
<circle cx="999" cy="192" r="3" fill="#1cb3a3"/>
<text x="1007.5" y="171.5" font-size="16.8">employee</text>
<text x="1007.5" y="195.5" font-size="16.8">hospitalized</text>
</g>
<g id="pc">
<g font-size="22.4">
<text x="13.6" y="783.7">Figure 1. Viral shedding and overview of</text>
<text x="13.6" y="809.89">genome sequencing data. (A) Viral load by</text>
<text x="13.6" y="836.08">day of infection in hospitalized patients (teal)</text>
<text x="13.6" y="862.27">and employees (violet). Viral load, measured</text>
<text x="13.6" y="888.46">by N1 qPCR in units of genome copies per</text>
<text x="13.6" y="914.65">microliter of extracted RNA, is on the y-axis</text>
<text x="13.6" y="940.84">and day post symptom onset is on the x-</text>
<text x="13.6" y="967.03">axis. (B) Genome completeness by viral</text>
<text x="13.6" y="993.22">load in hospitalized patients (teal) and</text>
<text x="13.6" y="1019.41">employees (violet). Viral load as shown in</text>
<text x="13.6" y="1045.6">(A) is on the x-axis and the fraction of the</text>
<text x="13.6" y="1071.79">genome covered above 10x read depth is</text>
<text x="13.6" y="1097.98">shown on the y-axis. (C) Maximum-</text>
<text x="13.6" y="1124.17">likelihood phylogenetic tree. Tips represent</text>
<text x="13.6" y="1150.36">complete consensus genomes from</text>
<text x="13.6" y="1176.55">hospitalized patients (teal) and employees</text>
<text x="13.6" y="1202.74">(violet). The axis shows divergence from the</text>
<text x="13.6" y="1228.93">root (Wuhan-Hu-1/2019). Heatmaps show</text>
<text x="13.6" y="1255.12">PANGOLIN evolutionary lineage (left) and</text>
<text x="13.6" y="1281.31">epidemiologic cluster (right).</text>
</g>
<circle cx="356.3" cy="666.3" r="3.3" fill="#5c539a"/>
<circle cx="356.3" cy="691.6" r="3.3" fill="#1cb3a3"/>
<circle cx="356.3" cy="716.6" r="3.1" fill="#000"/>
<text x="376.5" y="670.8" font-size="16.8">employee</text>
<text x="376.5" y="695.8" font-size="16.8">hospitalized</text>
<text x="376.5" y="720.8" font-size="16.8">reference</text>
<path d="M102 1342.1H182" stroke="#000" stroke-width="2"/>
<text x="143.3" y="1329.6" font-size="17" text-anchor="middle">4e−05</text>
<rect x="1057.4" y="644" width="22.6" height="3.83" fill="#0c2547"/>
<rect x="1080.8" y="644" width="23.2" height="3.83" fill="#9a9a9a"/>
<rect x="1057.4" y="647.78" width="22.6" height="3.83" fill="#0c2547"/>
<rect x="1080.8" y="647.78" width="23.2" height="3.83" fill="#9a9a9a"/>
<rect x="1057.4" y="651.57" width="22.6" height="3.83" fill="#0c2547"/>
<rect x="1080.8" y="651.57" width="23.2" height="3.83" fill="#9a9a9a"/>
<rect x="1057.4" y="655.35" width="22.6" height="3.83" fill="#0c2547"/>
<rect x="1080.8" y="655.35" width="23.2" height="3.83" fill="#9a9a9a"/>
<rect x="1057.4" y="659.13" width="22.6" height="3.83" fill="#0c2547"/>
<rect x="1080.8" y="659.13" width="23.2" height="3.83" fill="#9a9a9a"/>
<rect x="1057.4" y="662.91" width="22.6" height="3.83" fill="#0c2547"/>
<rect x="1080.8" y="662.91" width="23.2" height="3.83" fill="#9a9a9a"/>
<rect x="1057.4" y="666.7" width="22.6" height="3.83" fill="#0c2547"/>
<rect x="1080.8" y="666.7" width="23.2" height="3.83" fill="#9a9a9a"/>
<rect x="1057.4" y="670.48" width="22.6" height="3.83" fill="#0c2547"/>
<rect x="1080.8" y="670.48" width="23.2" height="3.83" fill="#9a9a9a"/>
<rect x="1057.4" y="674.26" width="22.6" height="3.83" fill="#0c2547"/>
<rect x="1080.8" y="674.26" width="23.2" height="3.83" fill="#9a9a9a"/>
<rect x="1057.4" y="678.05" width="22.6" height="3.83" fill="#0c2547"/>
<rect x="1080.8" y="678.05" width="23.2" height="3.83" fill="#9a9a9a"/>
<rect x="1057.4" y="681.83" width="22.6" height="3.83" fill="#0c2547"/>
<rect x="1080.8" y="681.83" width="23.2" height="3.83" fill="#9a9a9a"/>
<rect x="1057.4" y="685.61" width="22.6" height="3.83" fill="#0c2547"/>
<rect x="1080.8" y="685.61" width="23.2" height="3.83" fill="#9a9a9a"/>
<rect x="1057.4" y="689.4" width="22.6" height="3.83" fill="#0c2547"/>
<rect x="1080.8" y="689.4" width="23.2" height="3.83" fill="#9a9a9a"/>
<rect x="1057.4" y="693.18" width="22.6" height="3.83" fill="#0c2547"/>
<rect x="1080.8" y="693.18" width="23.2" height="3.83" fill="#9ed8e4"/>
<rect x="1057.4" y="696.96" width="22.6" height="3.83" fill="#0c2547"/>
<rect x="1080.8" y="696.96" width="23.2" height="3.83" fill="#9a9a9a"/>
<rect x="1057.4" y="700.75" width="22.6" height="3.83" fill="#0c2547"/>
<rect x="1080.8" y="700.75" width="23.2" height="3.83" fill="#9a9a9a"/>
<rect x="1057.4" y="704.53" width="22.6" height="3.83" fill="#0c2547"/>
<rect x="1080.8" y="704.53" width="23.2" height="3.83" fill="#9a9a9a"/>
<rect x="1057.4" y="708.31" width="22.6" height="3.83" fill="#0c2547"/>
<rect x="1080.8" y="708.31" width="23.2" height="3.83" fill="#9a9a9a"/>
<rect x="1057.4" y="712.09" width="22.6" height="3.83" fill="#0c2547"/>
<rect x="1080.8" y="712.09" width="23.2" height="3.83" fill="#9a9a9a"/>
<rect x="1057.4" y="715.88" width="22.6" height="3.83" fill="#0c2547"/>
<rect x="1080.8" y="715.88" width="23.2" height="3.83" fill="#9a9a9a"/>
<rect x="1057.4" y="719.66" width="22.6" height="3.83" fill="#5a5499"/>
<rect x="1080.8" y="719.66" width="23.2" height="3.83" fill="#9a9a9a"/>
<rect x="1057.4" y="723.44" width="22.6" height="3.83" fill="#0c2547"/>
<rect x="1080.8" y="723.44" width="23.2" height="3.83" fill="#9a9a9a"/>
<rect x="1057.4" y="727.23" width="22.6" height="3.83" fill="#0c2547"/>
<rect x="1080.8" y="727.23" width="23.2" height="3.83" fill="#9a9a9a"/>
<rect x="1057.4" y="731.01" width="22.6" height="3.83" fill="#0c2547"/>
<rect x="1080.8" y="731.01" width="23.2" height="3.83" fill="#9a9a9a"/>
<rect x="1057.4" y="734.79" width="22.6" height="3.83" fill="#0c2547"/>
<rect x="1080.8" y="734.79" width="23.2" height="3.83" fill="#9a9a9a"/>
<rect x="1057.4" y="738.58" width="22.6" height="3.83" fill="#0c2547"/>
<rect x="1080.8" y="738.58" width="23.2" height="3.83" fill="#9a9a9a"/>
<rect x="1057.4" y="742.36" width="22.6" height="3.83" fill="#0c2547"/>
<rect x="1080.8" y="742.36" width="23.2" height="3.83" fill="#9a9a9a"/>
<rect x="1057.4" y="746.14" width="22.6" height="3.83" fill="#0c2547"/>
<rect x="1080.8" y="746.14" width="23.2" height="3.83" fill="#9a9a9a"/>
<rect x="1057.4" y="749.92" width="22.6" height="3.83" fill="#0c2547"/>
<rect x="1080.8" y="749.92" width="23.2" height="3.83" fill="#9a9a9a"/>
<rect x="1057.4" y="753.71" width="22.6" height="3.83" fill="#0c2547"/>
<rect x="1080.8" y="753.71" width="23.2" height="3.83" fill="#9a9a9a"/>
<rect x="1057.4" y="757.49" width="22.6" height="3.83" fill="#0c2547"/>
<rect x="1080.8" y="757.49" width="23.2" height="3.83" fill="#9a9a9a"/>
<rect x="1057.4" y="761.27" width="22.6" height="3.83" fill="#0c2547"/>
<rect x="1080.8" y="761.27" width="23.2" height="3.83" fill="#9a9a9a"/>
<rect x="1057.4" y="765.06" width="22.6" height="3.83" fill="#0c2547"/>
<rect x="1080.8" y="765.06" width="23.2" height="3.83" fill="#9a9a9a"/>
<rect x="1057.4" y="768.84" width="22.6" height="3.83" fill="#0c2547"/>
<rect x="1080.8" y="768.84" width="23.2" height="3.83" fill="#9a9a9a"/>
<rect x="1057.4" y="772.62" width="22.6" height="3.83" fill="#0c2547"/>
<rect x="1080.8" y="772.62" width="23.2" height="3.83" fill="#9a9a9a"/>
<rect x="1057.4" y="776.4" width="22.6" height="3.83" fill="#0c2547"/>
<rect x="1080.8" y="776.4" width="23.2" height="3.83" fill="#2b2a7d"/>
<rect x="1057.4" y="780.19" width="22.6" height="3.83" fill="#0c2547"/>
<rect x="1080.8" y="780.19" width="23.2" height="3.83" fill="#9a9a9a"/>
<rect x="1057.4" y="783.97" width="22.6" height="3.83" fill="#0c2547"/>
<rect x="1080.8" y="783.97" width="23.2" height="3.83" fill="#9a9a9a"/>
<rect x="1057.4" y="787.75" width="22.6" height="3.83" fill="#0c2547"/>
<rect x="1080.8" y="787.75" width="23.2" height="3.83" fill="#9a9a9a"/>
<rect x="1057.4" y="791.54" width="22.6" height="3.83" fill="#0c2547"/>
<rect x="1080.8" y="791.54" width="23.2" height="3.83" fill="#9a9a9a"/>
<rect x="1057.4" y="795.32" width="22.6" height="3.83" fill="#0c2547"/>
<rect x="1080.8" y="795.32" width="23.2" height="3.83" fill="#9a9a9a"/>
<rect x="1057.4" y="799.1" width="22.6" height="3.83" fill="#0c2547"/>
<rect x="1080.8" y="799.1" width="23.2" height="3.83" fill="#9a9a9a"/>
<rect x="1057.4" y="802.89" width="22.6" height="3.83" fill="#0c2547"/>
<rect x="1080.8" y="802.89" width="23.2" height="3.83" fill="#9a9a9a"/>
<rect x="1057.4" y="806.67" width="22.6" height="3.83" fill="#0c2547"/>
<rect x="1080.8" y="806.67" width="23.2" height="3.83" fill="#9a9a9a"/>
<rect x="1057.4" y="810.45" width="22.6" height="3.83" fill="#0c2547"/>
<rect x="1080.8" y="810.45" width="23.2" height="3.83" fill="#9a9a9a"/>
<rect x="1057.4" y="814.24" width="22.6" height="3.83" fill="#0c2547"/>
<rect x="1080.8" y="814.24" width="23.2" height="3.83" fill="#9a9a9a"/>
<rect x="1057.4" y="818.02" width="22.6" height="3.83" fill="#0c2547"/>
<rect x="1080.8" y="818.02" width="23.2" height="3.83" fill="#9a9a9a"/>
<rect x="1057.4" y="821.8" width="22.6" height="3.83" fill="#0c2547"/>
<rect x="1080.8" y="821.8" width="23.2" height="3.83" fill="#9a9a9a"/>
<rect x="1057.4" y="825.58" width="22.6" height="3.83" fill="#0c2547"/>
<rect x="1080.8" y="825.58" width="23.2" height="3.83" fill="#9a9a9a"/>
<rect x="1057.4" y="829.37" width="22.6" height="3.83" fill="#0c2547"/>
<rect x="1080.8" y="829.37" width="23.2" height="3.83" fill="#ee6a4e"/>
<rect x="1057.4" y="833.15" width="22.6" height="3.83" fill="#0c2547"/>
<rect x="1080.8" y="833.15" width="23.2" height="3.83" fill="#9a9a9a"/>
<rect x="1057.4" y="836.93" width="22.6" height="3.83" fill="#0c2547"/>
<rect x="1080.8" y="836.93" width="23.2" height="3.83" fill="#9a9a9a"/>
<rect x="1057.4" y="840.72" width="22.6" height="3.83" fill="#0c2547"/>
<rect x="1080.8" y="840.72" width="23.2" height="3.83" fill="#9a9a9a"/>
<rect x="1057.4" y="844.5" width="22.6" height="3.83" fill="#0c2547"/>
<rect x="1080.8" y="844.5" width="23.2" height="3.83" fill="#6bbf4a"/>
<rect x="1057.4" y="848.28" width="22.6" height="3.83" fill="#0c2547"/>
<rect x="1080.8" y="848.28" width="23.2" height="3.83" fill="#9a9a9a"/>
<rect x="1057.4" y="852.07" width="22.6" height="3.83" fill="#0c2547"/>
<rect x="1080.8" y="852.07" width="23.2" height="3.83" fill="#9a9a9a"/>
<rect x="1057.4" y="855.85" width="22.6" height="3.83" fill="#0c2547"/>
<rect x="1080.8" y="855.85" width="23.2" height="3.83" fill="#9a9a9a"/>
<rect x="1057.4" y="859.63" width="22.6" height="3.83" fill="#0c2547"/>
<rect x="1080.8" y="859.63" width="23.2" height="3.83" fill="#9a9a9a"/>
<rect x="1057.4" y="863.41" width="22.6" height="3.83" fill="#0c2547"/>
<rect x="1080.8" y="863.41" width="23.2" height="3.83" fill="#9a9a9a"/>
<rect x="1057.4" y="867.2" width="22.6" height="3.83" fill="#0c2547"/>
<rect x="1080.8" y="867.2" width="23.2" height="3.83" fill="#9a9a9a"/>
<rect x="1057.4" y="870.98" width="22.6" height="3.83" fill="#0c2547"/>
<rect x="1080.8" y="870.98" width="23.2" height="3.83" fill="#9a9a9a"/>
<rect x="1057.4" y="874.76" width="22.6" height="3.83" fill="#0c2547"/>
<rect x="1080.8" y="874.76" width="23.2" height="3.83" fill="#9a9a9a"/>
<rect x="1057.4" y="878.55" width="22.6" height="3.83" fill="#0c2547"/>
<rect x="1080.8" y="878.55" width="23.2" height="3.83" fill="#9a9a9a"/>
<rect x="1057.4" y="882.33" width="22.6" height="3.83" fill="#0c2547"/>
<rect x="1080.8" y="882.33" width="23.2" height="3.83" fill="#9a9a9a"/>
<rect x="1057.4" y="886.11" width="22.6" height="3.83" fill="#0c2547"/>
<rect x="1080.8" y="886.11" width="23.2" height="3.83" fill="#9a9a9a"/>
<rect x="1057.4" y="889.89" width="22.6" height="3.83" fill="#0c2547"/>
<rect x="1080.8" y="889.89" width="23.2" height="3.83" fill="#6bbf4a"/>
<rect x="1057.4" y="893.68" width="22.6" height="3.83" fill="#0c2547"/>
<rect x="1080.8" y="893.68" width="23.2" height="3.83" fill="#9a9a9a"/>
<rect x="1057.4" y="897.46" width="22.6" height="3.83" fill="#0c2547"/>
<rect x="1080.8" y="897.46" width="23.2" height="3.83" fill="#9a9a9a"/>
<rect x="1057.4" y="901.24" width="22.6" height="3.83" fill="#0c2547"/>
<rect x="1080.8" y="901.24" width="23.2" height="3.83" fill="#9a9a9a"/>
<rect x="1057.4" y="905.03" width="22.6" height="3.83" fill="#0c2547"/>
<rect x="1080.8" y="905.03" width="23.2" height="3.83" fill="#9a9a9a"/>
<rect x="1057.4" y="908.81" width="22.6" height="3.83" fill="#0c2547"/>
<rect x="1080.8" y="908.81" width="23.2" height="3.83" fill="#9a9a9a"/>
<rect x="1057.4" y="912.59" width="22.6" height="3.83" fill="#0c2547"/>
<rect x="1080.8" y="912.59" width="23.2" height="3.83" fill="#9a9a9a"/>
<rect x="1057.4" y="916.38" width="22.6" height="3.83" fill="#0c2547"/>
<rect x="1080.8" y="916.38" width="23.2" height="3.83" fill="#9a9a9a"/>
<rect x="1057.4" y="920.16" width="22.6" height="3.83" fill="#0c2547"/>
<rect x="1080.8" y="920.16" width="23.2" height="3.83" fill="#9a9a9a"/>
<rect x="1057.4" y="923.94" width="22.6" height="3.83" fill="#0c2547"/>
<rect x="1080.8" y="923.94" width="23.2" height="3.83" fill="#9a9a9a"/>
<rect x="1057.4" y="927.72" width="22.6" height="3.83" fill="#0c2547"/>
<rect x="1080.8" y="927.72" width="23.2" height="3.83" fill="#9a9a9a"/>
<rect x="1057.4" y="931.51" width="22.6" height="3.83" fill="#0c2547"/>
<rect x="1080.8" y="931.51" width="23.2" height="3.83" fill="#9a9a9a"/>
<rect x="1057.4" y="935.29" width="22.6" height="3.83" fill="#0c2547"/>
<rect x="1080.8" y="935.29" width="23.2" height="3.83" fill="#9a9a9a"/>
<rect x="1057.4" y="939.07" width="22.6" height="3.83" fill="#0c2547"/>
<rect x="1080.8" y="939.07" width="23.2" height="3.83" fill="#f4a9b8"/>
<rect x="1057.4" y="942.86" width="22.6" height="3.83" fill="#0c2547"/>
<rect x="1080.8" y="942.86" width="23.2" height="3.83" fill="#9a9a9a"/>
<rect x="1057.4" y="946.64" width="22.6" height="3.83" fill="#0c2547"/>
<rect x="1080.8" y="946.64" width="23.2" height="3.83" fill="#9a9a9a"/>
<rect x="1057.4" y="950.42" width="22.6" height="3.83" fill="#0c2547"/>
<rect x="1080.8" y="950.42" width="23.2" height="3.83" fill="#9a9a9a"/>
<rect x="1057.4" y="954.21" width="22.6" height="3.83" fill="#0c2547"/>
<rect x="1080.8" y="954.21" width="23.2" height="3.83" fill="#9a9a9a"/>
<rect x="1057.4" y="957.99" width="22.6" height="3.83" fill="#0c2547"/>
<rect x="1080.8" y="957.99" width="23.2" height="3.83" fill="#9a9a9a"/>
<rect x="1057.4" y="961.77" width="22.6" height="3.83" fill="#0c2547"/>
<rect x="1080.8" y="961.77" width="23.2" height="3.83" fill="#9a9a9a"/>
<rect x="1057.4" y="965.56" width="22.6" height="3.83" fill="#0c2547"/>
<rect x="1080.8" y="965.56" width="23.2" height="3.83" fill="#9a9a9a"/>
<rect x="1057.4" y="969.34" width="22.6" height="3.83" fill="#0c2547"/>
<rect x="1080.8" y="969.34" width="23.2" height="3.83" fill="#9a9a9a"/>
<rect x="1057.4" y="973.12" width="22.6" height="3.83" fill="#0c2547"/>
<rect x="1080.8" y="973.12" width="23.2" height="3.83" fill="#9a9a9a"/>
<rect x="1057.4" y="976.9" width="22.6" height="3.83" fill="#0c2547"/>
<rect x="1080.8" y="976.9" width="23.2" height="3.83" fill="#9a9a9a"/>
<rect x="1057.4" y="980.69" width="22.6" height="3.83" fill="#0c2547"/>
<rect x="1080.8" y="980.69" width="23.2" height="3.83" fill="#9a9a9a"/>
<rect x="1057.4" y="984.47" width="22.6" height="3.83" fill="#0c2547"/>
<rect x="1080.8" y="984.47" width="23.2" height="3.83" fill="#9a9a9a"/>
<rect x="1057.4" y="988.25" width="22.6" height="3.83" fill="#0c2547"/>
<rect x="1080.8" y="988.25" width="23.2" height="3.83" fill="#9a9a9a"/>
<rect x="1057.4" y="992.04" width="22.6" height="3.83" fill="#0c2547"/>
<rect x="1080.8" y="992.04" width="23.2" height="3.83" fill="#9a9a9a"/>
<rect x="1057.4" y="995.82" width="22.6" height="3.83" fill="#0c2547"/>
<rect x="1080.8" y="995.82" width="23.2" height="3.83" fill="#9a9a9a"/>
<rect x="1057.4" y="999.6" width="22.6" height="3.83" fill="#0c2547"/>
<rect x="1080.8" y="999.6" width="23.2" height="3.83" fill="#9a9a9a"/>
<rect x="1057.4" y="1003.38" width="22.6" height="3.83" fill="#0c2547"/>
<rect x="1080.8" y="1003.38" width="23.2" height="3.83" fill="#f4a9b8"/>
<rect x="1057.4" y="1007.17" width="22.6" height="3.83" fill="#0c2547"/>
<rect x="1080.8" y="1007.17" width="23.2" height="3.83" fill="#9a9a9a"/>
<rect x="1057.4" y="1010.95" width="22.6" height="3.83" fill="#0c2547"/>
<rect x="1080.8" y="1010.95" width="23.2" height="3.83" fill="#9a9a9a"/>
<rect x="1057.4" y="1014.73" width="22.6" height="3.83" fill="#0c2547"/>
<rect x="1080.8" y="1014.73" width="23.2" height="3.83" fill="#9a9a9a"/>
<rect x="1057.4" y="1018.52" width="22.6" height="3.83" fill="#0c2547"/>
<rect x="1080.8" y="1018.52" width="23.2" height="3.83" fill="#9a9a9a"/>
<rect x="1057.4" y="1022.3" width="22.6" height="3.83" fill="#0c2547"/>
<rect x="1080.8" y="1022.3" width="23.2" height="3.83" fill="#9a9a9a"/>
<rect x="1057.4" y="1026.08" width="22.6" height="3.83" fill="#0c2547"/>
<rect x="1080.8" y="1026.08" width="23.2" height="3.83" fill="#9a9a9a"/>
<rect x="1057.4" y="1029.87" width="22.6" height="3.83" fill="#0c2547"/>
<rect x="1080.8" y="1029.87" width="23.2" height="3.83" fill="#9a9a9a"/>
<rect x="1057.4" y="1033.65" width="22.6" height="3.83" fill="#0c2547"/>
<rect x="1080.8" y="1033.65" width="23.2" height="3.83" fill="#9a9a9a"/>
<rect x="1057.4" y="1037.43" width="22.6" height="3.83" fill="#0c2547"/>
<rect x="1080.8" y="1037.43" width="23.2" height="3.83" fill="#9a9a9a"/>
<rect x="1057.4" y="1041.21" width="22.6" height="3.83" fill="#0c2547"/>
<rect x="1080.8" y="1041.21" width="23.2" height="3.83" fill="#9a9a9a"/>
<rect x="1057.4" y="1045" width="22.6" height="3.83" fill="#0c2547"/>
<rect x="1080.8" y="1045" width="23.2" height="3.83" fill="#9a9a9a"/>
<rect x="1057.4" y="1048.78" width="22.6" height="3.83" fill="#0c2547"/>
<rect x="1080.8" y="1048.78" width="23.2" height="3.83" fill="#9a9a9a"/>
<rect x="1057.4" y="1052.56" width="22.6" height="3.83" fill="#0c2547"/>
<rect x="1080.8" y="1052.56" width="23.2" height="3.83" fill="#9a9a9a"/>
<rect x="1057.4" y="1056.35" width="22.6" height="3.83" fill="#0c2547"/>
<rect x="1080.8" y="1056.35" width="23.2" height="3.83" fill="#9a9a9a"/>
<rect x="1057.4" y="1060.13" width="22.6" height="3.83" fill="#0c2547"/>
<rect x="1080.8" y="1060.13" width="23.2" height="3.83" fill="#9a9a9a"/>
<rect x="1057.4" y="1063.91" width="22.6" height="3.83" fill="#0c2547"/>
<rect x="1080.8" y="1063.91" width="23.2" height="3.83" fill="#9a9a9a"/>
<rect x="1057.4" y="1067.7" width="22.6" height="3.83" fill="#0c2547"/>
<rect x="1080.8" y="1067.7" width="23.2" height="3.83" fill="#9a9a9a"/>
<rect x="1057.4" y="1071.48" width="22.6" height="3.83" fill="#0c2547"/>
<rect x="1080.8" y="1071.48" width="23.2" height="3.83" fill="#9a9a9a"/>
<rect x="1057.4" y="1075.26" width="22.6" height="3.83" fill="#0c2547"/>
<rect x="1080.8" y="1075.26" width="23.2" height="3.83" fill="#9a9a9a"/>
<rect x="1057.4" y="1079.05" width="22.6" height="3.83" fill="#0c2547"/>
<rect x="1080.8" y="1079.05" width="23.2" height="3.83" fill="#9a9a9a"/>
<rect x="1057.4" y="1082.83" width="22.6" height="3.83" fill="#0c2547"/>
<rect x="1080.8" y="1082.83" width="23.2" height="3.83" fill="#ee6a4e"/>
<rect x="1057.4" y="1086.61" width="22.6" height="3.83" fill="#0c2547"/>
<rect x="1080.8" y="1086.61" width="23.2" height="3.83" fill="#9a9a9a"/>
<rect x="1057.4" y="1090.39" width="22.6" height="3.83" fill="#0c2547"/>
<rect x="1080.8" y="1090.39" width="23.2" height="3.83" fill="#9a9a9a"/>
<rect x="1057.4" y="1094.18" width="22.6" height="3.83" fill="#0c2547"/>
<rect x="1080.8" y="1094.18" width="23.2" height="3.83" fill="#9a9a9a"/>
<rect x="1057.4" y="1097.96" width="22.6" height="3.83" fill="#0c2547"/>
<rect x="1080.8" y="1097.96" width="23.2" height="3.83" fill="#9a9a9a"/>
<rect x="1057.4" y="1101.74" width="22.6" height="3.83" fill="#0c2547"/>
<rect x="1080.8" y="1101.74" width="23.2" height="3.83" fill="#9a9a9a"/>
<rect x="1057.4" y="1105.53" width="22.6" height="3.83" fill="#0c2547"/>
<rect x="1080.8" y="1105.53" width="23.2" height="3.83" fill="#9a9a9a"/>
<rect x="1057.4" y="1109.31" width="22.6" height="3.83" fill="#0c2547"/>
<rect x="1080.8" y="1109.31" width="23.2" height="3.83" fill="#9a9a9a"/>
<rect x="1057.4" y="1113.09" width="22.6" height="3.83" fill="#0c2547"/>
<rect x="1080.8" y="1113.09" width="23.2" height="3.83" fill="#9a9a9a"/>
<rect x="1057.4" y="1116.88" width="22.6" height="3.83" fill="#0c2547"/>
<rect x="1080.8" y="1116.88" width="23.2" height="3.83" fill="#9a9a9a"/>
<rect x="1057.4" y="1120.66" width="22.6" height="3.83" fill="#0c2547"/>
<rect x="1080.8" y="1120.66" width="23.2" height="3.83" fill="#9a9a9a"/>
<rect x="1057.4" y="1124.44" width="22.6" height="3.83" fill="#0c2547"/>
<rect x="1080.8" y="1124.44" width="23.2" height="3.83" fill="#9a9a9a"/>
<rect x="1057.4" y="1128.22" width="22.6" height="3.83" fill="#0c2547"/>
<rect x="1080.8" y="1128.22" width="23.2" height="3.83" fill="#9a9a9a"/>
<rect x="1057.4" y="1132.01" width="22.6" height="3.83" fill="#0c2547"/>
<rect x="1080.8" y="1132.01" width="23.2" height="3.83" fill="#9a9a9a"/>
<rect x="1057.4" y="1135.79" width="22.6" height="3.83" fill="#0c2547"/>
<rect x="1080.8" y="1135.79" width="23.2" height="3.83" fill="#9a9a9a"/>
<rect x="1057.4" y="1139.57" width="22.6" height="3.83" fill="#0c2547"/>
<rect x="1080.8" y="1139.57" width="23.2" height="3.83" fill="#9a9a9a"/>
<rect x="1057.4" y="1143.36" width="22.6" height="3.83" fill="#0c2547"/>
<rect x="1080.8" y="1143.36" width="23.2" height="3.83" fill="#9a9a9a"/>
<rect x="1057.4" y="1147.14" width="22.6" height="3.83" fill="#0c2547"/>
<rect x="1080.8" y="1147.14" width="23.2" height="3.83" fill="#9a9a9a"/>
<rect x="1057.4" y="1150.92" width="22.6" height="3.83" fill="#0c2547"/>
<rect x="1080.8" y="1150.92" width="23.2" height="3.83" fill="#d21a75"/>
<rect x="1057.4" y="1154.7" width="22.6" height="3.83" fill="#0c2547"/>
<rect x="1080.8" y="1154.7" width="23.2" height="3.83" fill="#9a9a9a"/>
<rect x="1057.4" y="1158.49" width="22.6" height="3.83" fill="#0c2547"/>
<rect x="1080.8" y="1158.49" width="23.2" height="3.83" fill="#9a9a9a"/>
<rect x="1057.4" y="1162.27" width="22.6" height="3.83" fill="#0c2547"/>
<rect x="1080.8" y="1162.27" width="23.2" height="3.83" fill="#9a9a9a"/>
<rect x="1057.4" y="1166.05" width="22.6" height="3.83" fill="#0c2547"/>
<rect x="1080.8" y="1166.05" width="23.2" height="3.83" fill="#9a9a9a"/>
<rect x="1057.4" y="1169.84" width="22.6" height="3.83" fill="#0c2547"/>
<rect x="1080.8" y="1169.84" width="23.2" height="3.83" fill="#9a9a9a"/>
<rect x="1057.4" y="1173.62" width="22.6" height="3.83" fill="#0c2547"/>
<rect x="1080.8" y="1173.62" width="23.2" height="3.83" fill="#9a9a9a"/>
<rect x="1057.4" y="1177.4" width="22.6" height="3.83" fill="#0c2547"/>
<rect x="1080.8" y="1177.4" width="23.2" height="3.83" fill="#d21a75"/>
<rect x="1057.4" y="1181.19" width="22.6" height="3.83" fill="#a8a63c"/>
<rect x="1080.8" y="1181.19" width="23.2" height="3.83" fill="#9a9a9a"/>
<rect x="1057.4" y="1184.97" width="22.6" height="3.83" fill="#0c2547"/>
<rect x="1080.8" y="1184.97" width="23.2" height="3.83" fill="#9a9a9a"/>
<rect x="1057.4" y="1188.75" width="22.6" height="3.83" fill="#0c2547"/>
<rect x="1080.8" y="1188.75" width="23.2" height="3.83" fill="#9a9a9a"/>
<rect x="1057.4" y="1192.53" width="22.6" height="3.83" fill="#0c2547"/>
<rect x="1080.8" y="1192.53" width="23.2" height="3.83" fill="#9a9a9a"/>
<rect x="1057.4" y="1196.32" width="22.6" height="3.83" fill="#0c2547"/>
<rect x="1080.8" y="1196.32" width="23.2" height="3.83" fill="#9a9a9a"/>
<rect x="1057.4" y="1200.1" width="22.6" height="3.83" fill="#0c2547"/>
<rect x="1080.8" y="1200.1" width="23.2" height="3.83" fill="#9a9a9a"/>
<rect x="1057.4" y="1203.88" width="22.6" height="3.83" fill="#0c2547"/>
<rect x="1080.8" y="1203.88" width="23.2" height="3.83" fill="#9a9a9a"/>
<rect x="1057.4" y="1207.67" width="22.6" height="3.83" fill="#0c2547"/>
<rect x="1080.8" y="1207.67" width="23.2" height="3.83" fill="#9a9a9a"/>
<rect x="1057.4" y="1211.45" width="22.6" height="3.83" fill="#722a86"/>
<rect x="1080.8" y="1211.45" width="23.2" height="3.83" fill="#9a9a9a"/>
<rect x="1057.4" y="1215.23" width="22.6" height="3.83" fill="#0c2547"/>
<rect x="1080.8" y="1215.23" width="23.2" height="3.83" fill="#9a9a9a"/>
<rect x="1057.4" y="1219.02" width="22.6" height="3.83" fill="#0c2547"/>
<rect x="1080.8" y="1219.02" width="23.2" height="3.83" fill="#9a9a9a"/>
<rect x="1057.4" y="1222.8" width="22.6" height="3.83" fill="#0c2547"/>
<rect x="1080.8" y="1222.8" width="23.2" height="3.83" fill="#9a9a9a"/>
<rect x="1057.4" y="1226.58" width="22.6" height="3.83" fill="#0c2547"/>
<rect x="1080.8" y="1226.58" width="23.2" height="3.83" fill="#9a9a9a"/>
<rect x="1057.4" y="1230.37" width="22.6" height="3.83" fill="#0c2547"/>
<rect x="1080.8" y="1230.37" width="23.2" height="3.83" fill="#9a9a9a"/>
<rect x="1057.4" y="1234.15" width="22.6" height="3.83" fill="#0c2547"/>
<rect x="1080.8" y="1234.15" width="23.2" height="3.83" fill="#9a9a9a"/>
<rect x="1057.4" y="1237.93" width="22.6" height="3.83" fill="#0c2547"/>
<rect x="1080.8" y="1237.93" width="23.2" height="3.83" fill="#9a9a9a"/>
<rect x="1057.4" y="1241.71" width="22.6" height="3.83" fill="#0c2547"/>
<rect x="1080.8" y="1241.71" width="23.2" height="3.83" fill="#9a9a9a"/>
<rect x="1057.4" y="1245.5" width="22.6" height="3.83" fill="#0c2547"/>
<rect x="1080.8" y="1245.5" width="23.2" height="3.83" fill="#9a9a9a"/>
<rect x="1057.4" y="1249.28" width="22.6" height="3.83" fill="#0c2547"/>
<rect x="1080.8" y="1249.28" width="23.2" height="3.83" fill="#9a9a9a"/>
<rect x="1057.4" y="1253.06" width="22.6" height="3.83" fill="#0c2547"/>
<rect x="1080.8" y="1253.06" width="23.2" height="3.83" fill="#9a9a9a"/>
<rect x="1057.4" y="1256.85" width="22.6" height="3.83" fill="#0c2547"/>
<rect x="1080.8" y="1256.85" width="23.2" height="3.83" fill="#eea824"/>
<rect x="1057.4" y="1260.63" width="22.6" height="3.83" fill="#0c2547"/>
<rect x="1080.8" y="1260.63" width="23.2" height="3.83" fill="#9a9a9a"/>
<rect x="1057.4" y="1264.41" width="22.6" height="3.83" fill="#0c2547"/>
<rect x="1080.8" y="1264.41" width="23.2" height="3.83" fill="#9a9a9a"/>
<rect x="1057.4" y="1268.19" width="22.6" height="3.83" fill="#0c2547"/>
<rect x="1080.8" y="1268.19" width="23.2" height="3.83" fill="#9a9a9a"/>
<rect x="1057.4" y="1271.98" width="22.6" height="3.83" fill="#0c2547"/>
<rect x="1080.8" y="1271.98" width="23.2" height="3.83" fill="#9a9a9a"/>
<rect x="1057.4" y="1275.76" width="22.6" height="3.83" fill="#0c2547"/>
<rect x="1080.8" y="1275.76" width="23.2" height="3.83" fill="#eea824"/>
<rect x="1057.4" y="1279.54" width="22.6" height="3.83" fill="#0c2547"/>
<rect x="1080.8" y="1279.54" width="23.2" height="3.83" fill="#2b2a7d"/>
<rect x="1057.4" y="1283.33" width="22.6" height="3.83" fill="#0c2547"/>
<rect x="1080.8" y="1283.33" width="23.2" height="3.83" fill="#9a9a9a"/>
<rect x="1057.4" y="1287.11" width="22.6" height="3.83" fill="#0c2547"/>
<rect x="1080.8" y="1287.11" width="23.2" height="3.83" fill="#9a9a9a"/>
<rect x="1057.4" y="1290.89" width="22.6" height="3.83" fill="#0c2547"/>
<rect x="1080.8" y="1290.89" width="23.2" height="3.83" fill="#9a9a9a"/>
<rect x="1057.4" y="1294.68" width="22.6" height="3.83" fill="#0c2547"/>
<rect x="1080.8" y="1294.68" width="23.2" height="3.83" fill="#9a9a9a"/>
<rect x="1057.4" y="1298.46" width="22.6" height="3.83" fill="#a8a63c"/>
<rect x="1080.8" y="1298.46" width="23.2" height="3.83" fill="#647a8b"/>
<rect x="1057.4" y="1302.24" width="22.6" height="3.83" fill="#0c2547"/>
<rect x="1080.8" y="1302.24" width="23.2" height="3.83" fill="#9a9a9a"/>
<rect x="1057.4" y="1306.03" width="22.6" height="3.83" fill="#0c2547"/>
<rect x="1080.8" y="1306.03" width="23.2" height="3.83" fill="#9a9a9a"/>
<rect x="1057.4" y="1309.81" width="22.6" height="3.83" fill="#0c2547"/>
<rect x="1080.8" y="1309.81" width="23.2" height="3.83" fill="#6bbf4a"/>
<rect x="1057.4" y="1313.59" width="22.6" height="3.83" fill="#0c2547"/>
<rect x="1080.8" y="1313.59" width="23.2" height="3.83" fill="#9a9a9a"/>
<rect x="1057.4" y="1317.37" width="22.6" height="3.83" fill="#0c2547"/>
<rect x="1080.8" y="1317.37" width="23.2" height="3.83" fill="#9a9a9a"/>
<rect x="1057.4" y="1321.16" width="22.6" height="3.83" fill="#0c2547"/>
<rect x="1080.8" y="1321.16" width="23.2" height="3.83" fill="#9a9a9a"/>
<rect x="1057.4" y="1324.94" width="22.6" height="3.83" fill="#0c2547"/>
<rect x="1080.8" y="1324.94" width="23.2" height="3.83" fill="#647a8b"/>
<rect x="1057.4" y="1328.72" width="22.6" height="3.83" fill="#0c2547"/>
<rect x="1080.8" y="1328.72" width="23.2" height="3.83" fill="#9a9a9a"/>
<rect x="1057.4" y="1332.51" width="22.6" height="3.83" fill="#2f6aae"/>
<rect x="1080.8" y="1332.51" width="23.2" height="3.83" fill="#9a9a9a"/>
<rect x="1057.4" y="1336.29" width="22.6" height="3.83" fill="#0c2547"/>
<rect x="1080.8" y="1336.29" width="23.2" height="3.83" fill="#9a9a9a"/>
<rect x="1057.4" y="1340.07" width="22.6" height="3.83" fill="#0c2547"/>
<rect x="1080.8" y="1340.07" width="23.2" height="3.83" fill="#9a9a9a"/>
<rect x="1057.4" y="1343.86" width="22.6" height="3.83" fill="#0c2547"/>
<rect x="1080.8" y="1343.86" width="23.2" height="3.83" fill="#9a9a9a"/>
<rect x="1057.4" y="1347.64" width="22.6" height="3.83" fill="#0c2547"/>
<rect x="1080.8" y="1347.64" width="23.2" height="3.83" fill="#9a9a9a"/>
<rect x="1057.4" y="1351.42" width="22.6" height="3.83" fill="#0c2547"/>
<rect x="1080.8" y="1351.42" width="23.2" height="3.83" fill="#d21a75"/>
<rect x="1057.4" y="1355.2" width="22.6" height="3.83" fill="#0c2547"/>
<rect x="1080.8" y="1355.2" width="23.2" height="3.83" fill="#9a9a9a"/>
<rect x="1057.4" y="1358.99" width="22.6" height="3.83" fill="#0c2547"/>
<rect x="1080.8" y="1358.99" width="23.2" height="3.83" fill="#9a9a9a"/>
<rect x="1057.4" y="1362.77" width="22.6" height="3.83" fill="#0c2547"/>
<rect x="1080.8" y="1362.77" width="23.2" height="3.83" fill="#9a9a9a"/>
<rect x="1057.4" y="1366.55" width="22.6" height="3.83" fill="#0c2547"/>
<rect x="1080.8" y="1366.55" width="23.2" height="3.83" fill="#9a9a9a"/>
<rect x="1057.4" y="1370.34" width="22.6" height="3.83" fill="#12b3a6"/>
<rect x="1080.8" y="1370.34" width="23.2" height="3.83" fill="#9a9a9a"/>
<rect x="1057.4" y="1374.12" width="22.6" height="3.83" fill="#0c2547"/>
<rect x="1080.8" y="1374.12" width="23.2" height="3.83" fill="#9a9a9a"/>
<rect x="1057.4" y="1377.9" width="22.6" height="3.83" fill="#0c2547"/>
<rect x="1080.8" y="1377.9" width="23.2" height="3.83" fill="#9a9a9a"/>
<rect x="1057.4" y="1381.68" width="22.6" height="3.83" fill="#0c2547"/>
<rect x="1080.8" y="1381.68" width="23.2" height="3.83" fill="#9ed8e4"/>
<rect x="1057.4" y="1385.47" width="22.6" height="3.83" fill="#0c2547"/>
<rect x="1080.8" y="1385.47" width="23.2" height="3.83" fill="#9a9a9a"/>
<rect x="1057.4" y="1389.25" width="22.6" height="3.83" fill="#0c2547"/>
<rect x="1080.8" y="1389.25" width="23.2" height="3.83" fill="#9a9a9a"/>
<rect x="1057.4" y="1393.03" width="22.6" height="3.83" fill="#0c2547"/>
<rect x="1080.8" y="1393.03" width="23.2" height="3.83" fill="#9a9a9a"/>
<rect x="1057.4" y="1396.82" width="22.6" height="3.83" fill="#0c2547"/>
<rect x="1080.8" y="1396.82" width="23.2" height="3.83" fill="#9a9a9a"/>
<rect x="1057.4" y="1400.6" width="22.6" height="3.83" fill="#0c2547"/>
<rect x="1080.8" y="1400.6" width="23.2" height="3.83" fill="#9a9a9a"/>
<rect x="1057.4" y="1404.38" width="22.6" height="3.83" fill="#0c2547"/>
<rect x="1080.8" y="1404.38" width="23.2" height="3.83" fill="#2b79c2"/>
<rect x="1057.4" y="1408.17" width="22.6" height="3.83" fill="#0c2547"/>
<rect x="1080.8" y="1408.17" width="23.2" height="3.83" fill="#2b79c2"/>
<rect x="1057.4" y="1411.95" width="22.6" height="3.83" fill="#ffcc00"/>
<rect x="1080.8" y="1411.95" width="23.2" height="3.83" fill="#9a9a9a"/>
<rect x="1057.4" y="1415.73" width="22.6" height="3.83" fill="#7f9a8f"/>
<rect x="1080.8" y="1415.73" width="23.2" height="3.83" fill="#9a9a9a"/>
<rect x="1057.4" y="1419.51" width="22.6" height="3.83" fill="#a0352a"/>
<rect x="1080.8" y="1419.51" width="23.2" height="3.83" fill="#9a9a9a"/>
<rect x="1057.4" y="1423.3" width="22.6" height="3.83" fill="#a0352a"/>
<rect x="1080.8" y="1423.3" width="23.2" height="3.83" fill="#9a9a9a"/>
<rect x="1057.4" y="1427.08" width="22.6" height="3.83" fill="#a0352a"/>
<rect x="1080.8" y="1427.08" width="23.2" height="3.83" fill="#9a9a9a"/>
<rect x="1057.4" y="1430.86" width="22.6" height="3.83" fill="#a0352a"/>
<rect x="1080.8" y="1430.86" width="23.2" height="3.83" fill="#9a9a9a"/>
<rect x="1057.4" y="1434.65" width="22.6" height="3.83" fill="#a0352a"/>
<rect x="1080.8" y="1434.65" width="23.2" height="3.83" fill="#9a9a9a"/>
<rect x="1057.4" y="1438.43" width="22.6" height="3.83" fill="#a0352a"/>
<rect x="1080.8" y="1438.43" width="23.2" height="3.83" fill="#9a9a9a"/>
<rect x="1057.4" y="1442.21" width="22.6" height="3.83" fill="#a0352a"/>
<rect x="1080.8" y="1442.21" width="23.2" height="3.83" fill="#9a9a9a"/>
<rect x="1057.4" y="1446" width="22.6" height="3.83" fill="#d9652a"/>
<rect x="1080.8" y="1446" width="23.2" height="3.83" fill="#9a9a9a"/>
<rect x="1057.4" y="1449.78" width="22.6" height="3.83" fill="#7f9a8f"/>
<rect x="1080.8" y="1449.78" width="23.2" height="3.83" fill="#9a9a9a"/>
<rect x="1057.4" y="647.33" width="46.6" height="0.95" fill="#fff" fill-opacity="0.7"/>
<rect x="1057.4" y="651.12" width="46.6" height="0.95" fill="#fff" fill-opacity="0.7"/>
<rect x="1057.4" y="654.9" width="46.6" height="0.95" fill="#fff" fill-opacity="0.7"/>
<rect x="1057.4" y="658.68" width="46.6" height="0.95" fill="#fff" fill-opacity="0.7"/>
<rect x="1057.4" y="662.46" width="46.6" height="0.95" fill="#fff" fill-opacity="0.7"/>
<rect x="1057.4" y="666.25" width="46.6" height="0.95" fill="#fff" fill-opacity="0.7"/>
<rect x="1057.4" y="670.03" width="46.6" height="0.95" fill="#fff" fill-opacity="0.7"/>
<rect x="1057.4" y="673.81" width="46.6" height="0.95" fill="#fff" fill-opacity="0.7"/>
<rect x="1057.4" y="677.6" width="46.6" height="0.95" fill="#fff" fill-opacity="0.7"/>
<rect x="1057.4" y="681.38" width="46.6" height="0.95" fill="#fff" fill-opacity="0.7"/>
<rect x="1057.4" y="685.16" width="46.6" height="0.95" fill="#fff" fill-opacity="0.7"/>
<rect x="1057.4" y="688.95" width="46.6" height="0.95" fill="#fff" fill-opacity="0.7"/>
<rect x="1057.4" y="692.73" width="46.6" height="0.95" fill="#fff" fill-opacity="0.7"/>
<rect x="1057.4" y="696.51" width="46.6" height="0.95" fill="#fff" fill-opacity="0.7"/>
<rect x="1057.4" y="700.29" width="46.6" height="0.95" fill="#fff" fill-opacity="0.7"/>
<rect x="1057.4" y="704.08" width="46.6" height="0.95" fill="#fff" fill-opacity="0.7"/>
<rect x="1057.4" y="707.86" width="46.6" height="0.95" fill="#fff" fill-opacity="0.7"/>
<rect x="1057.4" y="711.64" width="46.6" height="0.95" fill="#fff" fill-opacity="0.7"/>
<rect x="1057.4" y="715.43" width="46.6" height="0.95" fill="#fff" fill-opacity="0.7"/>
<rect x="1057.4" y="719.21" width="46.6" height="0.95" fill="#fff" fill-opacity="0.7"/>
<rect x="1057.4" y="722.99" width="46.6" height="0.95" fill="#fff" fill-opacity="0.7"/>
<rect x="1057.4" y="726.78" width="46.6" height="0.95" fill="#fff" fill-opacity="0.7"/>
<rect x="1057.4" y="730.56" width="46.6" height="0.95" fill="#fff" fill-opacity="0.7"/>
<rect x="1057.4" y="734.34" width="46.6" height="0.95" fill="#fff" fill-opacity="0.7"/>
<rect x="1057.4" y="738.12" width="46.6" height="0.95" fill="#fff" fill-opacity="0.7"/>
<rect x="1057.4" y="741.91" width="46.6" height="0.95" fill="#fff" fill-opacity="0.7"/>
<rect x="1057.4" y="745.69" width="46.6" height="0.95" fill="#fff" fill-opacity="0.7"/>
<rect x="1057.4" y="749.47" width="46.6" height="0.95" fill="#fff" fill-opacity="0.7"/>
<rect x="1057.4" y="753.26" width="46.6" height="0.95" fill="#fff" fill-opacity="0.7"/>
<rect x="1057.4" y="757.04" width="46.6" height="0.95" fill="#fff" fill-opacity="0.7"/>
<rect x="1057.4" y="760.82" width="46.6" height="0.95" fill="#fff" fill-opacity="0.7"/>
<rect x="1057.4" y="764.61" width="46.6" height="0.95" fill="#fff" fill-opacity="0.7"/>
<rect x="1057.4" y="768.39" width="46.6" height="0.95" fill="#fff" fill-opacity="0.7"/>
<rect x="1057.4" y="772.17" width="46.6" height="0.95" fill="#fff" fill-opacity="0.7"/>
<rect x="1057.4" y="775.95" width="46.6" height="0.95" fill="#fff" fill-opacity="0.7"/>
<rect x="1057.4" y="779.74" width="46.6" height="0.95" fill="#fff" fill-opacity="0.7"/>
<rect x="1057.4" y="783.52" width="46.6" height="0.95" fill="#fff" fill-opacity="0.7"/>
<rect x="1057.4" y="787.3" width="46.6" height="0.95" fill="#fff" fill-opacity="0.7"/>
<rect x="1057.4" y="791.09" width="46.6" height="0.95" fill="#fff" fill-opacity="0.7"/>
<rect x="1057.4" y="794.87" width="46.6" height="0.95" fill="#fff" fill-opacity="0.7"/>
<rect x="1057.4" y="798.65" width="46.6" height="0.95" fill="#fff" fill-opacity="0.7"/>
<rect x="1057.4" y="802.44" width="46.6" height="0.95" fill="#fff" fill-opacity="0.7"/>
<rect x="1057.4" y="806.22" width="46.6" height="0.95" fill="#fff" fill-opacity="0.7"/>
<rect x="1057.4" y="810" width="46.6" height="0.95" fill="#fff" fill-opacity="0.7"/>
<rect x="1057.4" y="813.78" width="46.6" height="0.95" fill="#fff" fill-opacity="0.7"/>
<rect x="1057.4" y="817.57" width="46.6" height="0.95" fill="#fff" fill-opacity="0.7"/>
<rect x="1057.4" y="821.35" width="46.6" height="0.95" fill="#fff" fill-opacity="0.7"/>
<rect x="1057.4" y="825.13" width="46.6" height="0.95" fill="#fff" fill-opacity="0.7"/>
<rect x="1057.4" y="828.92" width="46.6" height="0.95" fill="#fff" fill-opacity="0.7"/>
<rect x="1057.4" y="832.7" width="46.6" height="0.95" fill="#fff" fill-opacity="0.7"/>
<rect x="1057.4" y="836.48" width="46.6" height="0.95" fill="#fff" fill-opacity="0.7"/>
<rect x="1057.4" y="840.27" width="46.6" height="0.95" fill="#fff" fill-opacity="0.7"/>
<rect x="1057.4" y="844.05" width="46.6" height="0.95" fill="#fff" fill-opacity="0.7"/>
<rect x="1057.4" y="847.83" width="46.6" height="0.95" fill="#fff" fill-opacity="0.7"/>
<rect x="1057.4" y="851.62" width="46.6" height="0.95" fill="#fff" fill-opacity="0.7"/>
<rect x="1057.4" y="855.4" width="46.6" height="0.95" fill="#fff" fill-opacity="0.7"/>
<rect x="1057.4" y="859.18" width="46.6" height="0.95" fill="#fff" fill-opacity="0.7"/>
<rect x="1057.4" y="862.96" width="46.6" height="0.95" fill="#fff" fill-opacity="0.7"/>
<rect x="1057.4" y="866.75" width="46.6" height="0.95" fill="#fff" fill-opacity="0.7"/>
<rect x="1057.4" y="870.53" width="46.6" height="0.95" fill="#fff" fill-opacity="0.7"/>
<rect x="1057.4" y="874.31" width="46.6" height="0.95" fill="#fff" fill-opacity="0.7"/>
<rect x="1057.4" y="878.1" width="46.6" height="0.95" fill="#fff" fill-opacity="0.7"/>
<rect x="1057.4" y="881.88" width="46.6" height="0.95" fill="#fff" fill-opacity="0.7"/>
<rect x="1057.4" y="885.66" width="46.6" height="0.95" fill="#fff" fill-opacity="0.7"/>
<rect x="1057.4" y="889.44" width="46.6" height="0.95" fill="#fff" fill-opacity="0.7"/>
<rect x="1057.4" y="893.23" width="46.6" height="0.95" fill="#fff" fill-opacity="0.7"/>
<rect x="1057.4" y="897.01" width="46.6" height="0.95" fill="#fff" fill-opacity="0.7"/>
<rect x="1057.4" y="900.79" width="46.6" height="0.95" fill="#fff" fill-opacity="0.7"/>
<rect x="1057.4" y="904.58" width="46.6" height="0.95" fill="#fff" fill-opacity="0.7"/>
<rect x="1057.4" y="908.36" width="46.6" height="0.95" fill="#fff" fill-opacity="0.7"/>
<rect x="1057.4" y="912.14" width="46.6" height="0.95" fill="#fff" fill-opacity="0.7"/>
<rect x="1057.4" y="915.93" width="46.6" height="0.95" fill="#fff" fill-opacity="0.7"/>
<rect x="1057.4" y="919.71" width="46.6" height="0.95" fill="#fff" fill-opacity="0.7"/>
<rect x="1057.4" y="923.49" width="46.6" height="0.95" fill="#fff" fill-opacity="0.7"/>
<rect x="1057.4" y="927.27" width="46.6" height="0.95" fill="#fff" fill-opacity="0.7"/>
<rect x="1057.4" y="931.06" width="46.6" height="0.95" fill="#fff" fill-opacity="0.7"/>
<rect x="1057.4" y="934.84" width="46.6" height="0.95" fill="#fff" fill-opacity="0.7"/>
<rect x="1057.4" y="938.62" width="46.6" height="0.95" fill="#fff" fill-opacity="0.7"/>
<rect x="1057.4" y="942.41" width="46.6" height="0.95" fill="#fff" fill-opacity="0.7"/>
<rect x="1057.4" y="946.19" width="46.6" height="0.95" fill="#fff" fill-opacity="0.7"/>
<rect x="1057.4" y="949.97" width="46.6" height="0.95" fill="#fff" fill-opacity="0.7"/>
<rect x="1057.4" y="953.76" width="46.6" height="0.95" fill="#fff" fill-opacity="0.7"/>
<rect x="1057.4" y="957.54" width="46.6" height="0.95" fill="#fff" fill-opacity="0.7"/>
<rect x="1057.4" y="961.32" width="46.6" height="0.95" fill="#fff" fill-opacity="0.7"/>
<rect x="1057.4" y="965.11" width="46.6" height="0.95" fill="#fff" fill-opacity="0.7"/>
<rect x="1057.4" y="968.89" width="46.6" height="0.95" fill="#fff" fill-opacity="0.7"/>
<rect x="1057.4" y="972.67" width="46.6" height="0.95" fill="#fff" fill-opacity="0.7"/>
<rect x="1057.4" y="976.45" width="46.6" height="0.95" fill="#fff" fill-opacity="0.7"/>
<rect x="1057.4" y="980.24" width="46.6" height="0.95" fill="#fff" fill-opacity="0.7"/>
<rect x="1057.4" y="984.02" width="46.6" height="0.95" fill="#fff" fill-opacity="0.7"/>
<rect x="1057.4" y="987.8" width="46.6" height="0.95" fill="#fff" fill-opacity="0.7"/>
<rect x="1057.4" y="991.59" width="46.6" height="0.95" fill="#fff" fill-opacity="0.7"/>
<rect x="1057.4" y="995.37" width="46.6" height="0.95" fill="#fff" fill-opacity="0.7"/>
<rect x="1057.4" y="999.15" width="46.6" height="0.95" fill="#fff" fill-opacity="0.7"/>
<rect x="1057.4" y="1002.93" width="46.6" height="0.95" fill="#fff" fill-opacity="0.7"/>
<rect x="1057.4" y="1006.72" width="46.6" height="0.95" fill="#fff" fill-opacity="0.7"/>
<rect x="1057.4" y="1010.5" width="46.6" height="0.95" fill="#fff" fill-opacity="0.7"/>
<rect x="1057.4" y="1014.28" width="46.6" height="0.95" fill="#fff" fill-opacity="0.7"/>
<rect x="1057.4" y="1018.07" width="46.6" height="0.95" fill="#fff" fill-opacity="0.7"/>
<rect x="1057.4" y="1021.85" width="46.6" height="0.95" fill="#fff" fill-opacity="0.7"/>
<rect x="1057.4" y="1025.63" width="46.6" height="0.95" fill="#fff" fill-opacity="0.7"/>
<rect x="1057.4" y="1029.42" width="46.6" height="0.95" fill="#fff" fill-opacity="0.7"/>
<rect x="1057.4" y="1033.2" width="46.6" height="0.95" fill="#fff" fill-opacity="0.7"/>
<rect x="1057.4" y="1036.98" width="46.6" height="0.95" fill="#fff" fill-opacity="0.7"/>
<rect x="1057.4" y="1040.76" width="46.6" height="0.95" fill="#fff" fill-opacity="0.7"/>
<rect x="1057.4" y="1044.55" width="46.6" height="0.95" fill="#fff" fill-opacity="0.7"/>
<rect x="1057.4" y="1048.33" width="46.6" height="0.95" fill="#fff" fill-opacity="0.7"/>
<rect x="1057.4" y="1052.11" width="46.6" height="0.95" fill="#fff" fill-opacity="0.7"/>
<rect x="1057.4" y="1055.9" width="46.6" height="0.95" fill="#fff" fill-opacity="0.7"/>
<rect x="1057.4" y="1059.68" width="46.6" height="0.95" fill="#fff" fill-opacity="0.7"/>
<rect x="1057.4" y="1063.46" width="46.6" height="0.95" fill="#fff" fill-opacity="0.7"/>
<rect x="1057.4" y="1067.25" width="46.6" height="0.95" fill="#fff" fill-opacity="0.7"/>
<rect x="1057.4" y="1071.03" width="46.6" height="0.95" fill="#fff" fill-opacity="0.7"/>
<rect x="1057.4" y="1074.81" width="46.6" height="0.95" fill="#fff" fill-opacity="0.7"/>
<rect x="1057.4" y="1078.6" width="46.6" height="0.95" fill="#fff" fill-opacity="0.7"/>
<rect x="1057.4" y="1082.38" width="46.6" height="0.95" fill="#fff" fill-opacity="0.7"/>
<rect x="1057.4" y="1086.16" width="46.6" height="0.95" fill="#fff" fill-opacity="0.7"/>
<rect x="1057.4" y="1089.94" width="46.6" height="0.95" fill="#fff" fill-opacity="0.7"/>
<rect x="1057.4" y="1093.73" width="46.6" height="0.95" fill="#fff" fill-opacity="0.7"/>
<rect x="1057.4" y="1097.51" width="46.6" height="0.95" fill="#fff" fill-opacity="0.7"/>
<rect x="1057.4" y="1101.29" width="46.6" height="0.95" fill="#fff" fill-opacity="0.7"/>
<rect x="1057.4" y="1105.08" width="46.6" height="0.95" fill="#fff" fill-opacity="0.7"/>
<rect x="1057.4" y="1108.86" width="46.6" height="0.95" fill="#fff" fill-opacity="0.7"/>
<rect x="1057.4" y="1112.64" width="46.6" height="0.95" fill="#fff" fill-opacity="0.7"/>
<rect x="1057.4" y="1116.42" width="46.6" height="0.95" fill="#fff" fill-opacity="0.7"/>
<rect x="1057.4" y="1120.21" width="46.6" height="0.95" fill="#fff" fill-opacity="0.7"/>
<rect x="1057.4" y="1123.99" width="46.6" height="0.95" fill="#fff" fill-opacity="0.7"/>
<rect x="1057.4" y="1127.77" width="46.6" height="0.95" fill="#fff" fill-opacity="0.7"/>
<rect x="1057.4" y="1131.56" width="46.6" height="0.95" fill="#fff" fill-opacity="0.7"/>
<rect x="1057.4" y="1135.34" width="46.6" height="0.95" fill="#fff" fill-opacity="0.7"/>
<rect x="1057.4" y="1139.12" width="46.6" height="0.95" fill="#fff" fill-opacity="0.7"/>
<rect x="1057.4" y="1142.91" width="46.6" height="0.95" fill="#fff" fill-opacity="0.7"/>
<rect x="1057.4" y="1146.69" width="46.6" height="0.95" fill="#fff" fill-opacity="0.7"/>
<rect x="1057.4" y="1150.47" width="46.6" height="0.95" fill="#fff" fill-opacity="0.7"/>
<rect x="1057.4" y="1154.25" width="46.6" height="0.95" fill="#fff" fill-opacity="0.7"/>
<rect x="1057.4" y="1158.04" width="46.6" height="0.95" fill="#fff" fill-opacity="0.7"/>
<rect x="1057.4" y="1161.82" width="46.6" height="0.95" fill="#fff" fill-opacity="0.7"/>
<rect x="1057.4" y="1165.6" width="46.6" height="0.95" fill="#fff" fill-opacity="0.7"/>
<rect x="1057.4" y="1169.39" width="46.6" height="0.95" fill="#fff" fill-opacity="0.7"/>
<rect x="1057.4" y="1173.17" width="46.6" height="0.95" fill="#fff" fill-opacity="0.7"/>
<rect x="1057.4" y="1176.95" width="46.6" height="0.95" fill="#fff" fill-opacity="0.7"/>
<rect x="1057.4" y="1180.74" width="46.6" height="0.95" fill="#fff" fill-opacity="0.7"/>
<rect x="1057.4" y="1184.52" width="46.6" height="0.95" fill="#fff" fill-opacity="0.7"/>
<rect x="1057.4" y="1188.3" width="46.6" height="0.95" fill="#fff" fill-opacity="0.7"/>
<rect x="1057.4" y="1192.08" width="46.6" height="0.95" fill="#fff" fill-opacity="0.7"/>
<rect x="1057.4" y="1195.87" width="46.6" height="0.95" fill="#fff" fill-opacity="0.7"/>
<rect x="1057.4" y="1199.65" width="46.6" height="0.95" fill="#fff" fill-opacity="0.7"/>
<rect x="1057.4" y="1203.43" width="46.6" height="0.95" fill="#fff" fill-opacity="0.7"/>
<rect x="1057.4" y="1207.22" width="46.6" height="0.95" fill="#fff" fill-opacity="0.7"/>
<rect x="1057.4" y="1211" width="46.6" height="0.95" fill="#fff" fill-opacity="0.7"/>
<rect x="1057.4" y="1214.78" width="46.6" height="0.95" fill="#fff" fill-opacity="0.7"/>
<rect x="1057.4" y="1218.57" width="46.6" height="0.95" fill="#fff" fill-opacity="0.7"/>
<rect x="1057.4" y="1222.35" width="46.6" height="0.95" fill="#fff" fill-opacity="0.7"/>
<rect x="1057.4" y="1226.13" width="46.6" height="0.95" fill="#fff" fill-opacity="0.7"/>
<rect x="1057.4" y="1229.91" width="46.6" height="0.95" fill="#fff" fill-opacity="0.7"/>
<rect x="1057.4" y="1233.7" width="46.6" height="0.95" fill="#fff" fill-opacity="0.7"/>
<rect x="1057.4" y="1237.48" width="46.6" height="0.95" fill="#fff" fill-opacity="0.7"/>
<rect x="1057.4" y="1241.26" width="46.6" height="0.95" fill="#fff" fill-opacity="0.7"/>
<rect x="1057.4" y="1245.05" width="46.6" height="0.95" fill="#fff" fill-opacity="0.7"/>
<rect x="1057.4" y="1248.83" width="46.6" height="0.95" fill="#fff" fill-opacity="0.7"/>
<rect x="1057.4" y="1252.61" width="46.6" height="0.95" fill="#fff" fill-opacity="0.7"/>
<rect x="1057.4" y="1256.4" width="46.6" height="0.95" fill="#fff" fill-opacity="0.7"/>
<rect x="1057.4" y="1260.18" width="46.6" height="0.95" fill="#fff" fill-opacity="0.7"/>
<rect x="1057.4" y="1263.96" width="46.6" height="0.95" fill="#fff" fill-opacity="0.7"/>
<rect x="1057.4" y="1267.74" width="46.6" height="0.95" fill="#fff" fill-opacity="0.7"/>
<rect x="1057.4" y="1271.53" width="46.6" height="0.95" fill="#fff" fill-opacity="0.7"/>
<rect x="1057.4" y="1275.31" width="46.6" height="0.95" fill="#fff" fill-opacity="0.7"/>
<rect x="1057.4" y="1279.09" width="46.6" height="0.95" fill="#fff" fill-opacity="0.7"/>
<rect x="1057.4" y="1282.88" width="46.6" height="0.95" fill="#fff" fill-opacity="0.7"/>
<rect x="1057.4" y="1286.66" width="46.6" height="0.95" fill="#fff" fill-opacity="0.7"/>
<rect x="1057.4" y="1290.44" width="46.6" height="0.95" fill="#fff" fill-opacity="0.7"/>
<rect x="1057.4" y="1294.23" width="46.6" height="0.95" fill="#fff" fill-opacity="0.7"/>
<rect x="1057.4" y="1298.01" width="46.6" height="0.95" fill="#fff" fill-opacity="0.7"/>
<rect x="1057.4" y="1301.79" width="46.6" height="0.95" fill="#fff" fill-opacity="0.7"/>
<rect x="1057.4" y="1305.58" width="46.6" height="0.95" fill="#fff" fill-opacity="0.7"/>
<rect x="1057.4" y="1309.36" width="46.6" height="0.95" fill="#fff" fill-opacity="0.7"/>
<rect x="1057.4" y="1313.14" width="46.6" height="0.95" fill="#fff" fill-opacity="0.7"/>
<rect x="1057.4" y="1316.92" width="46.6" height="0.95" fill="#fff" fill-opacity="0.7"/>
<rect x="1057.4" y="1320.71" width="46.6" height="0.95" fill="#fff" fill-opacity="0.7"/>
<rect x="1057.4" y="1324.49" width="46.6" height="0.95" fill="#fff" fill-opacity="0.7"/>
<rect x="1057.4" y="1328.27" width="46.6" height="0.95" fill="#fff" fill-opacity="0.7"/>
<rect x="1057.4" y="1332.06" width="46.6" height="0.95" fill="#fff" fill-opacity="0.7"/>
<rect x="1057.4" y="1335.84" width="46.6" height="0.95" fill="#fff" fill-opacity="0.7"/>
<rect x="1057.4" y="1339.62" width="46.6" height="0.95" fill="#fff" fill-opacity="0.7"/>
<rect x="1057.4" y="1343.4" width="46.6" height="0.95" fill="#fff" fill-opacity="0.7"/>
<rect x="1057.4" y="1347.19" width="46.6" height="0.95" fill="#fff" fill-opacity="0.7"/>
<rect x="1057.4" y="1350.97" width="46.6" height="0.95" fill="#fff" fill-opacity="0.7"/>
<rect x="1057.4" y="1354.75" width="46.6" height="0.95" fill="#fff" fill-opacity="0.7"/>
<rect x="1057.4" y="1358.54" width="46.6" height="0.95" fill="#fff" fill-opacity="0.7"/>
<rect x="1057.4" y="1362.32" width="46.6" height="0.95" fill="#fff" fill-opacity="0.7"/>
<rect x="1057.4" y="1366.1" width="46.6" height="0.95" fill="#fff" fill-opacity="0.7"/>
<rect x="1057.4" y="1369.89" width="46.6" height="0.95" fill="#fff" fill-opacity="0.7"/>
<rect x="1057.4" y="1373.67" width="46.6" height="0.95" fill="#fff" fill-opacity="0.7"/>
<rect x="1057.4" y="1377.45" width="46.6" height="0.95" fill="#fff" fill-opacity="0.7"/>
<rect x="1057.4" y="1381.23" width="46.6" height="0.95" fill="#fff" fill-opacity="0.7"/>
<rect x="1057.4" y="1385.02" width="46.6" height="0.95" fill="#fff" fill-opacity="0.7"/>
<rect x="1057.4" y="1388.8" width="46.6" height="0.95" fill="#fff" fill-opacity="0.7"/>
<rect x="1057.4" y="1392.58" width="46.6" height="0.95" fill="#fff" fill-opacity="0.7"/>
<rect x="1057.4" y="1396.37" width="46.6" height="0.95" fill="#fff" fill-opacity="0.7"/>
<rect x="1057.4" y="1400.15" width="46.6" height="0.95" fill="#fff" fill-opacity="0.7"/>
<rect x="1057.4" y="1403.93" width="46.6" height="0.95" fill="#fff" fill-opacity="0.7"/>
<rect x="1057.4" y="1407.72" width="46.6" height="0.95" fill="#fff" fill-opacity="0.7"/>
<rect x="1057.4" y="1411.5" width="46.6" height="0.95" fill="#fff" fill-opacity="0.7"/>
<rect x="1057.4" y="1415.28" width="46.6" height="0.95" fill="#fff" fill-opacity="0.7"/>
<rect x="1057.4" y="1419.06" width="46.6" height="0.95" fill="#fff" fill-opacity="0.7"/>
<rect x="1057.4" y="1422.85" width="46.6" height="0.95" fill="#fff" fill-opacity="0.7"/>
<rect x="1057.4" y="1426.63" width="46.6" height="0.95" fill="#fff" fill-opacity="0.7"/>
<rect x="1057.4" y="1430.41" width="46.6" height="0.95" fill="#fff" fill-opacity="0.7"/>
<rect x="1057.4" y="1434.2" width="46.6" height="0.95" fill="#fff" fill-opacity="0.7"/>
<rect x="1057.4" y="1437.98" width="46.6" height="0.95" fill="#fff" fill-opacity="0.7"/>
<rect x="1057.4" y="1441.76" width="46.6" height="0.95" fill="#fff" fill-opacity="0.7"/>
<rect x="1057.4" y="1445.55" width="46.6" height="0.95" fill="#fff" fill-opacity="0.7"/>
<rect x="1057.4" y="1449.33" width="46.6" height="0.95" fill="#fff" fill-opacity="0.7"/>
<rect x="1079.9" y="644" width="0.95" height="809.56" fill="#fff"/>
<text x="1041" y="628.2" font-size="17" text-anchor="middle">Lineage</text>
<text x="1119" y="628.2" font-size="17" text-anchor="middle">Cluster</text>
<rect x="1023.6" y="645.6" width="23.6" height="24" fill="#a0352a"/>
<rect x="1115.5" y="645.6" width="23.6" height="24" fill="#2b2a7d"/>
<text x="1017.8" y="664.2" font-size="17" text-anchor="end">A.3</text>
<text x="1147.5" y="663.7" font-size="17">10</text>
<rect x="1023.6" y="670.69" width="23.6" height="24" fill="#d9652a"/>
<rect x="1115.5" y="670.69" width="23.6" height="24" fill="#eea824"/>
<text x="1017.8" y="689.29" font-size="17" text-anchor="end">A.4</text>
<text x="1147.5" y="688.79" font-size="17">16</text>
<rect x="1023.6" y="695.78" width="23.6" height="24" fill="#7f9a8f"/>
<rect x="1115.5" y="695.78" width="23.6" height="24" fill="#2b79c2"/>
<text x="1017.8" y="714.38" font-size="17" text-anchor="end">B</text>
<text x="1147.5" y="713.88" font-size="17">19</text>
<rect x="1023.6" y="720.87" width="23.6" height="24" fill="#0c2547"/>
<rect x="1115.5" y="720.87" width="23.6" height="24" fill="#ee6a4e"/>
<text x="1017.8" y="739.47" font-size="17" text-anchor="end">B.1</text>
<text x="1147.5" y="738.97" font-size="17">2</text>
<rect x="1023.6" y="745.96" width="23.6" height="24" fill="#ffcc00"/>
<rect x="1115.5" y="745.96" width="23.6" height="24" fill="#f4a9b8"/>
<text x="1017.8" y="764.56" font-size="17" text-anchor="end">B.1.1</text>
<text x="1147.5" y="764.06" font-size="17">20</text>
<rect x="1023.6" y="771.05" width="23.6" height="24" fill="#a8a63c"/>
<rect x="1115.5" y="771.05" width="23.6" height="24" fill="#647a8b"/>
<text x="1017.8" y="789.65" font-size="17" text-anchor="end">B.1.119</text>
<text x="1147.5" y="789.15" font-size="17">28</text>
<rect x="1023.6" y="796.14" width="23.6" height="24" fill="#12b3a6"/>
<rect x="1115.5" y="796.14" width="23.6" height="24" fill="#6bbf4a"/>
<text x="1017.8" y="814.74" font-size="17" text-anchor="end">B.1.2</text>
<text x="1147.5" y="814.24" font-size="17">29</text>
<rect x="1023.6" y="821.23" width="23.6" height="24" fill="#2f6aae"/>
<rect x="1115.5" y="821.23" width="23.6" height="24" fill="#d21a75"/>
<text x="1017.8" y="839.83" font-size="17" text-anchor="end">B.1.3</text>
<text x="1147.5" y="839.33" font-size="17">30</text>
<rect x="1023.6" y="846.32" width="23.6" height="24" fill="#722a86"/>
<rect x="1115.5" y="846.32" width="23.6" height="24" fill="#9ed8e4"/>
<text x="1017.8" y="864.92" font-size="17" text-anchor="end">B.1.36</text>
<text x="1147.5" y="864.42" font-size="17">6</text>
<rect x="1023.6" y="871.41" width="23.6" height="24" fill="#5a5499"/>
<rect x="1115.5" y="871.41" width="23.6" height="24" fill="#9a9a9a"/>
<text x="1017.8" y="890.01" font-size="17" text-anchor="end">B.1.39</text>
<text x="1147.5" y="889.51" font-size="17">None</text>
<path d="M504.55 668.6H573.2M504.55 672.38H573.2M504.55 676.16H573.2M504.55 710.21H573.2M504.55 713.99H573.2M504.55 717.78H573.2M504.55 721.56H573.2M504.55 725.34H573.2M504.55 729.13H573.2M504.55 801H573.2M504.55 804.79H573.2M504.55 808.57H573.2M504.55 812.35H640.2M504.55 816.13H573.2M504.55 819.92H573.2M504.55 865.31H573.2M504.55 869.1H640.2M504.55 872.88H707.5M504.55 929.62H640.2M504.55 944.76H573.2M504.55 956.11H573.2M504.55 967.45H573.2M504.55 971.24H640.2M504.55 975.02H640.2M504.55 978.8H573.2M504.55 982.59H573.2M504.55 986.37H573.2M504.55 990.15H573.2M504.55 1037H640.2M504.55 1043H640.2M504.55 1047H640.2M504.55 1051H640.2M504.55 1054.46H573.2M504.55 1058.25H573.2M504.55 1062.03H573.2M504.55 1065.81H573.2M504.55 1069.6H573.2M504.55 1073.38H573.2M504.55 1077.16H573.2M504.55 1080.94H573.2M504.55 1084.73H573.2M504.55 1088.51H573.2M504.55 1106.3H573.2M573.2 1096.25V1115.75M572.45 1097H707.5M707.5 1090.25V1100.75M706.75 1100H774M572.45 1111.2H774M572.45 1115H774M504.55 1128.3H573.2M573.2 1117.55V1134.45M572.45 1126.2H707.5M572.45 1130.4H640.2M572.45 1133.7H910.6M504.55 1143H573.2M573.2 1136.25V1147.75M572.45 1147H640.2M640.2 1144.75V1149.45M639.45 1148.7H842.8M504.55 1156.5H842.8M774 1151.75V1161.25M504.55 1168H573.2M573.2 1163.25V1172.75M572.45 1164H640.2M572.45 1172H707.5M504.55 1180H573.2M573.2 1177.25V1184.05M572.45 1178H640.2M640.2 1174.95V1180.45M639.45 1175.7H707.5M639.45 1179.7H707.5M572.45 1183.3H707.5M504.55 1188.3H573.2M573.2 1184.95V1191.75M504.55 1196.3H573.2M573.2 1194.25V1199.75M504.55 1204H640.2M640.2 1200.95V1206.45M639.45 1205.7H707.5M504.55 1211.7H573.2M573.2 1208.95V1214.45M572.45 1209.7H707.5M572.45 1213.7H640.2M504.55 1219H707.5M707.5 1216.25V1221.75M706.75 1217H774M504.55 1227H573.2M573.2 1223.55V1229.05M572.45 1224.3H640.2M572.45 1228.3H842.8M504.55 1234.6H573.2M573.2 1231.55V1237.05M572.45 1232.3H640.2M504.55 1241.6H774M504.55 1247.8H640.2M504.55 1251.5H573.2M504.55 1255H573.2M504.55 1258.8H573.2M504.55 1262.8H640.2M504.55 1266.5H707.5M504.55 1270H573.2M504.55 1274H573.2M504.55 1278H573.2M504.55 1281.5H573.2M504.55 1285.5H573.2M504.55 1289H640.2M504.55 1293H640.2M504.55 1296.6H640.2M504.55 1300.4H640.2M504.55 1304.3H640.2M504.55 1308.3H640.2M504.55 1312.3H707.5M504.55 1316.1H707.5M504.55 1319.9H707.5M504.55 1323.7H707.5M504.55 1327.5H774M504.55 1331.2H842.8M504.55 1334.6H573.2M504.55 1338.3H640.2M504.55 1341.9H640.2M504.55 1345.7H573.2M504.55 1349.6H707.5M504.55 1353.6H707.5M504.55 1357H573.2M504.55 1360.6H573.2M504.55 1364.5H640.2M504.55 1368.3H640.2M504.55 1371.9H640.2M504.55 1375.6H640.2M504.55 1379.2H640.2M505.3 645.15V1379.95M505.3 1385.25V1394.45M504.55 1386H640.2M640.2 1383.25V1388.35M639.45 1384H707.5M504.55 1393.7H573.2M573.2 1390.45V1396.35M572.45 1395.6H640.2M437.3 1271.55V1390.25M436.55 1272.3H505.3M436.55 1389.5H505.3M369.5 1330.55V1414.45M368.75 1331.3H437.3M368.75 1399.2H573.2M368.75 1408.5H437.3M368.75 1413.7H640.2M101.7 1382.25V1452.75M100.95 1383H369.5M100.95 1443.7H235.5M100.95 1452H235.5M235.5 1439.25V1448.25M234.75 1440H640.2M234.75 1447.5H640.2M640.2 1435.25V1444.75M639.45 1436H707.5M639.45 1444H774M707.5 1429.25V1441.75M706.75 1430H774M706.75 1436.8H910.6M706.75 1440.8H977M774 1420.25V1433.35M773.25 1421H842.8M773.25 1424.8H842.8M773.25 1428.6H842.8M773.25 1432.6H1045" fill="none" stroke="#000" stroke-width="1.7"/>
<circle cx="505.3" cy="645.9" r="3.25" fill="#5c539a" stroke="#4a4284" stroke-width="0.6"/>
<circle cx="505.3" cy="649.68" r="3.25" fill="#5c539a" stroke="#4a4284" stroke-width="0.6"/>
<circle cx="505.3" cy="653.47" r="3.25" fill="#1cb3a3" stroke="#16927f" stroke-width="0.6"/>
<circle cx="505.3" cy="657.25" r="3.25" fill="#1cb3a3" stroke="#16927f" stroke-width="0.6"/>
<circle cx="505.3" cy="661.03" r="3.25" fill="#5c539a" stroke="#4a4284" stroke-width="0.6"/>
<circle cx="505.3" cy="664.81" r="3.25" fill="#1cb3a3" stroke="#16927f" stroke-width="0.6"/>
<circle cx="573.2" cy="668.6" r="3.25" fill="#5c539a" stroke="#4a4284" stroke-width="0.6"/>
<circle cx="573.2" cy="672.38" r="3.25" fill="#1cb3a3" stroke="#16927f" stroke-width="0.6"/>
<circle cx="573.2" cy="676.16" r="3.25" fill="#1cb3a3" stroke="#16927f" stroke-width="0.6"/>
<circle cx="505.3" cy="679.95" r="3.25" fill="#1cb3a3" stroke="#16927f" stroke-width="0.6"/>
<circle cx="505.3" cy="683.73" r="3.25" fill="#1cb3a3" stroke="#16927f" stroke-width="0.6"/>
<circle cx="505.3" cy="687.51" r="3.25" fill="#1cb3a3" stroke="#16927f" stroke-width="0.6"/>
<circle cx="505.3" cy="691.3" r="3.25" fill="#1cb3a3" stroke="#16927f" stroke-width="0.6"/>
<circle cx="505.3" cy="695.08" r="3.25" fill="#5c539a" stroke="#4a4284" stroke-width="0.6"/>
<circle cx="505.3" cy="698.86" r="3.25" fill="#5c539a" stroke="#4a4284" stroke-width="0.6"/>
<circle cx="505.3" cy="702.64" r="3.25" fill="#5c539a" stroke="#4a4284" stroke-width="0.6"/>
<circle cx="505.3" cy="706.43" r="3.25" fill="#1cb3a3" stroke="#16927f" stroke-width="0.6"/>
<circle cx="573.2" cy="710.21" r="3.25" fill="#1cb3a3" stroke="#16927f" stroke-width="0.6"/>
<circle cx="573.2" cy="713.99" r="3.25" fill="#1cb3a3" stroke="#16927f" stroke-width="0.6"/>
<circle cx="573.2" cy="717.78" r="3.25" fill="#1cb3a3" stroke="#16927f" stroke-width="0.6"/>
<circle cx="573.2" cy="721.56" r="3.25" fill="#5c539a" stroke="#4a4284" stroke-width="0.6"/>
<circle cx="573.2" cy="725.34" r="3.25" fill="#5c539a" stroke="#4a4284" stroke-width="0.6"/>
<circle cx="573.2" cy="729.13" r="3.25" fill="#5c539a" stroke="#4a4284" stroke-width="0.6"/>
<circle cx="505.3" cy="732.91" r="3.25" fill="#1cb3a3" stroke="#16927f" stroke-width="0.6"/>
<circle cx="505.3" cy="736.69" r="3.25" fill="#1cb3a3" stroke="#16927f" stroke-width="0.6"/>
<circle cx="505.3" cy="740.48" r="3.25" fill="#1cb3a3" stroke="#16927f" stroke-width="0.6"/>
<circle cx="505.3" cy="744.26" r="3.25" fill="#1cb3a3" stroke="#16927f" stroke-width="0.6"/>
<circle cx="505.3" cy="748.04" r="3.25" fill="#1cb3a3" stroke="#16927f" stroke-width="0.6"/>
<circle cx="505.3" cy="751.82" r="3.25" fill="#1cb3a3" stroke="#16927f" stroke-width="0.6"/>
<circle cx="505.3" cy="755.61" r="3.25" fill="#1cb3a3" stroke="#16927f" stroke-width="0.6"/>
<circle cx="505.3" cy="759.39" r="3.25" fill="#1cb3a3" stroke="#16927f" stroke-width="0.6"/>
<circle cx="505.3" cy="763.17" r="3.25" fill="#5c539a" stroke="#4a4284" stroke-width="0.6"/>
<circle cx="505.3" cy="766.96" r="3.25" fill="#1cb3a3" stroke="#16927f" stroke-width="0.6"/>
<circle cx="505.3" cy="770.74" r="3.25" fill="#5c539a" stroke="#4a4284" stroke-width="0.6"/>
<circle cx="505.3" cy="774.52" r="3.25" fill="#5c539a" stroke="#4a4284" stroke-width="0.6"/>
<circle cx="505.3" cy="778.3" r="3.25" fill="#5c539a" stroke="#4a4284" stroke-width="0.6"/>
<circle cx="505.3" cy="782.09" r="3.25" fill="#5c539a" stroke="#4a4284" stroke-width="0.6"/>
<circle cx="505.3" cy="785.87" r="3.25" fill="#1cb3a3" stroke="#16927f" stroke-width="0.6"/>
<circle cx="505.3" cy="789.65" r="3.25" fill="#1cb3a3" stroke="#16927f" stroke-width="0.6"/>
<circle cx="505.3" cy="793.44" r="3.25" fill="#1cb3a3" stroke="#16927f" stroke-width="0.6"/>
<circle cx="505.3" cy="797.22" r="3.25" fill="#5c539a" stroke="#4a4284" stroke-width="0.6"/>
<circle cx="573.2" cy="801" r="3.25" fill="#5c539a" stroke="#4a4284" stroke-width="0.6"/>
<circle cx="573.2" cy="804.79" r="3.25" fill="#5c539a" stroke="#4a4284" stroke-width="0.6"/>
<circle cx="573.2" cy="808.57" r="3.25" fill="#1cb3a3" stroke="#16927f" stroke-width="0.6"/>
<circle cx="640.2" cy="812.35" r="3.25" fill="#5c539a" stroke="#4a4284" stroke-width="0.6"/>
<circle cx="573.2" cy="816.13" r="3.25" fill="#5c539a" stroke="#4a4284" stroke-width="0.6"/>
<circle cx="573.2" cy="819.92" r="3.25" fill="#1cb3a3" stroke="#16927f" stroke-width="0.6"/>
<circle cx="505.3" cy="823.7" r="3.25" fill="#1cb3a3" stroke="#16927f" stroke-width="0.6"/>
<circle cx="505.3" cy="827.48" r="3.25" fill="#1cb3a3" stroke="#16927f" stroke-width="0.6"/>
<circle cx="505.3" cy="831.27" r="3.25" fill="#5c539a" stroke="#4a4284" stroke-width="0.6"/>
<circle cx="505.3" cy="835.05" r="3.25" fill="#5c539a" stroke="#4a4284" stroke-width="0.6"/>
<circle cx="505.3" cy="838.83" r="3.25" fill="#1cb3a3" stroke="#16927f" stroke-width="0.6"/>
<circle cx="505.3" cy="842.62" r="3.25" fill="#1cb3a3" stroke="#16927f" stroke-width="0.6"/>
<circle cx="505.3" cy="846.4" r="3.25" fill="#5c539a" stroke="#4a4284" stroke-width="0.6"/>
<circle cx="505.3" cy="850.18" r="3.25" fill="#5c539a" stroke="#4a4284" stroke-width="0.6"/>
<circle cx="505.3" cy="853.96" r="3.25" fill="#1cb3a3" stroke="#16927f" stroke-width="0.6"/>
<circle cx="505.3" cy="857.75" r="3.25" fill="#1cb3a3" stroke="#16927f" stroke-width="0.6"/>
<circle cx="505.3" cy="861.53" r="3.25" fill="#5c539a" stroke="#4a4284" stroke-width="0.6"/>
<circle cx="573.2" cy="865.31" r="3.25" fill="#5c539a" stroke="#4a4284" stroke-width="0.6"/>
<circle cx="640.2" cy="869.1" r="3.25" fill="#1cb3a3" stroke="#16927f" stroke-width="0.6"/>
<circle cx="707.5" cy="872.88" r="3.25" fill="#1cb3a3" stroke="#16927f" stroke-width="0.6"/>
<circle cx="505.3" cy="876.66" r="3.25" fill="#5c539a" stroke="#4a4284" stroke-width="0.6"/>
<circle cx="505.3" cy="880.45" r="3.25" fill="#5c539a" stroke="#4a4284" stroke-width="0.6"/>
<circle cx="505.3" cy="884.23" r="3.25" fill="#1cb3a3" stroke="#16927f" stroke-width="0.6"/>
<circle cx="505.3" cy="888.01" r="3.25" fill="#5c539a" stroke="#4a4284" stroke-width="0.6"/>
<circle cx="505.3" cy="891.79" r="3.25" fill="#5c539a" stroke="#4a4284" stroke-width="0.6"/>
<circle cx="505.3" cy="895.58" r="3.25" fill="#5c539a" stroke="#4a4284" stroke-width="0.6"/>
<circle cx="505.3" cy="899.36" r="3.25" fill="#5c539a" stroke="#4a4284" stroke-width="0.6"/>
<circle cx="505.3" cy="903.14" r="3.25" fill="#5c539a" stroke="#4a4284" stroke-width="0.6"/>
<circle cx="505.3" cy="906.93" r="3.25" fill="#1cb3a3" stroke="#16927f" stroke-width="0.6"/>
<circle cx="505.3" cy="910.71" r="3.25" fill="#5c539a" stroke="#4a4284" stroke-width="0.6"/>
<circle cx="505.3" cy="914.49" r="3.25" fill="#1cb3a3" stroke="#16927f" stroke-width="0.6"/>
<circle cx="505.3" cy="918.28" r="3.25" fill="#1cb3a3" stroke="#16927f" stroke-width="0.6"/>
<circle cx="505.3" cy="922.06" r="3.25" fill="#1cb3a3" stroke="#16927f" stroke-width="0.6"/>
<circle cx="505.3" cy="925.84" r="3.25" fill="#5c539a" stroke="#4a4284" stroke-width="0.6"/>
<circle cx="640.2" cy="929.62" r="3.25" fill="#1cb3a3" stroke="#16927f" stroke-width="0.6"/>
<circle cx="505.3" cy="933.41" r="3.25" fill="#1cb3a3" stroke="#16927f" stroke-width="0.6"/>
<circle cx="505.3" cy="937.19" r="3.25" fill="#1cb3a3" stroke="#16927f" stroke-width="0.6"/>
<circle cx="505.3" cy="940.97" r="3.25" fill="#5c539a" stroke="#4a4284" stroke-width="0.6"/>
<circle cx="573.2" cy="944.76" r="3.25" fill="#5c539a" stroke="#4a4284" stroke-width="0.6"/>
<circle cx="505.3" cy="948.54" r="3.25" fill="#5c539a" stroke="#4a4284" stroke-width="0.6"/>
<circle cx="505.3" cy="952.32" r="3.25" fill="#1cb3a3" stroke="#16927f" stroke-width="0.6"/>
<circle cx="573.2" cy="956.11" r="3.25" fill="#5c539a" stroke="#4a4284" stroke-width="0.6"/>
<circle cx="505.3" cy="959.89" r="3.25" fill="#5c539a" stroke="#4a4284" stroke-width="0.6"/>
<circle cx="505.3" cy="963.67" r="3.25" fill="#1cb3a3" stroke="#16927f" stroke-width="0.6"/>
<circle cx="573.2" cy="967.45" r="3.25" fill="#1cb3a3" stroke="#16927f" stroke-width="0.6"/>
<circle cx="640.2" cy="971.24" r="3.25" fill="#1cb3a3" stroke="#16927f" stroke-width="0.6"/>
<circle cx="640.2" cy="975.02" r="3.25" fill="#1cb3a3" stroke="#16927f" stroke-width="0.6"/>
<circle cx="573.2" cy="978.8" r="3.25" fill="#1cb3a3" stroke="#16927f" stroke-width="0.6"/>
<circle cx="573.2" cy="982.59" r="3.25" fill="#1cb3a3" stroke="#16927f" stroke-width="0.6"/>
<circle cx="573.2" cy="986.37" r="3.25" fill="#5c539a" stroke="#4a4284" stroke-width="0.6"/>
<circle cx="573.2" cy="990.15" r="3.25" fill="#1cb3a3" stroke="#16927f" stroke-width="0.6"/>
<circle cx="505.3" cy="993.94" r="3.25" fill="#1cb3a3" stroke="#16927f" stroke-width="0.6"/>
<circle cx="505.3" cy="997.72" r="3.25" fill="#5c539a" stroke="#4a4284" stroke-width="0.6"/>
<circle cx="505.3" cy="1001.5" r="3.25" fill="#1cb3a3" stroke="#16927f" stroke-width="0.6"/>
<circle cx="505.3" cy="1005.28" r="3.25" fill="#5c539a" stroke="#4a4284" stroke-width="0.6"/>
<circle cx="505.3" cy="1009.07" r="3.25" fill="#1cb3a3" stroke="#16927f" stroke-width="0.6"/>
<circle cx="505.3" cy="1012.85" r="3.25" fill="#1cb3a3" stroke="#16927f" stroke-width="0.6"/>
<circle cx="505.3" cy="1016.63" r="3.25" fill="#5c539a" stroke="#4a4284" stroke-width="0.6"/>
<circle cx="505.3" cy="1020.42" r="3.25" fill="#5c539a" stroke="#4a4284" stroke-width="0.6"/>
<circle cx="505.3" cy="1024.2" r="3.25" fill="#1cb3a3" stroke="#16927f" stroke-width="0.6"/>
<circle cx="505.3" cy="1027.98" r="3.25" fill="#1cb3a3" stroke="#16927f" stroke-width="0.6"/>
<circle cx="505.3" cy="1031.77" r="3.25" fill="#1cb3a3" stroke="#16927f" stroke-width="0.6"/>
<circle cx="640.2" cy="934.2" r="3.25" fill="#5c539a" stroke="#4a4284" stroke-width="0.6"/>
<circle cx="640.2" cy="1037" r="3.25" fill="#1cb3a3" stroke="#16927f" stroke-width="0.6"/>
<circle cx="640.2" cy="1043" r="3.25" fill="#5c539a" stroke="#4a4284" stroke-width="0.6"/>
<circle cx="640.2" cy="1047" r="3.25" fill="#5c539a" stroke="#4a4284" stroke-width="0.6"/>
<circle cx="640.2" cy="1051" r="3.25" fill="#1cb3a3" stroke="#16927f" stroke-width="0.6"/>
<circle cx="573.2" cy="1054.46" r="3.25" fill="#1cb3a3" stroke="#16927f" stroke-width="0.6"/>
<circle cx="573.2" cy="1058.25" r="3.25" fill="#1cb3a3" stroke="#16927f" stroke-width="0.6"/>
<circle cx="573.2" cy="1062.03" r="3.25" fill="#1cb3a3" stroke="#16927f" stroke-width="0.6"/>
<circle cx="573.2" cy="1065.81" r="3.25" fill="#5c539a" stroke="#4a4284" stroke-width="0.6"/>
<circle cx="573.2" cy="1069.6" r="3.25" fill="#1cb3a3" stroke="#16927f" stroke-width="0.6"/>
<circle cx="573.2" cy="1073.38" r="3.25" fill="#5c539a" stroke="#4a4284" stroke-width="0.6"/>
<circle cx="573.2" cy="1077.16" r="3.25" fill="#1cb3a3" stroke="#16927f" stroke-width="0.6"/>
<circle cx="573.2" cy="1080.94" r="3.25" fill="#1cb3a3" stroke="#16927f" stroke-width="0.6"/>
<circle cx="573.2" cy="1084.73" r="3.25" fill="#5c539a" stroke="#4a4284" stroke-width="0.6"/>
<circle cx="573.2" cy="1088.51" r="3.25" fill="#1cb3a3" stroke="#16927f" stroke-width="0.6"/>
<circle cx="707.5" cy="1091" r="3.25" fill="#1cb3a3" stroke="#16927f" stroke-width="0.6"/>
<circle cx="707.5" cy="1095.5" r="3.25" fill="#1cb3a3" stroke="#16927f" stroke-width="0.6"/>
<circle cx="774" cy="1100" r="3.25" fill="#1cb3a3" stroke="#16927f" stroke-width="0.6"/>
<circle cx="573.2" cy="1103.7" r="3.25" fill="#1cb3a3" stroke="#16927f" stroke-width="0.6"/>
<circle cx="573.2" cy="1108.3" r="3.25" fill="#5c539a" stroke="#4a4284" stroke-width="0.6"/>
<circle cx="774" cy="1111.2" r="3.25" fill="#5c539a" stroke="#4a4284" stroke-width="0.6"/>
<circle cx="774" cy="1115" r="3.25" fill="#5c539a" stroke="#4a4284" stroke-width="0.6"/>
<circle cx="573.2" cy="1118.3" r="3.25" fill="#5c539a" stroke="#4a4284" stroke-width="0.6"/>
<circle cx="573.2" cy="1123" r="3.25" fill="#1cb3a3" stroke="#16927f" stroke-width="0.6"/>
<circle cx="707.5" cy="1126.2" r="3.25" fill="#1cb3a3" stroke="#16927f" stroke-width="0.6"/>
<circle cx="640.2" cy="1130.4" r="3.25" fill="#5c539a" stroke="#4a4284" stroke-width="0.6"/>
<circle cx="910.6" cy="1133.7" r="3.25" fill="#5c539a" stroke="#4a4284" stroke-width="0.6"/>
<circle cx="573.2" cy="1137" r="3.25" fill="#1cb3a3" stroke="#16927f" stroke-width="0.6"/>
<circle cx="573.2" cy="1141.7" r="3.25" fill="#1cb3a3" stroke="#16927f" stroke-width="0.6"/>
<circle cx="640.2" cy="1145.5" r="3.25" fill="#5c539a" stroke="#4a4284" stroke-width="0.6"/>
<circle cx="842.8" cy="1148.7" r="3.25" fill="#5c539a" stroke="#4a4284" stroke-width="0.6"/>
<circle cx="774" cy="1152.5" r="3.25" fill="#5c539a" stroke="#4a4284" stroke-width="0.6"/>
<circle cx="774" cy="1160.5" r="3.25" fill="#1cb3a3" stroke="#16927f" stroke-width="0.6"/>
<circle cx="842.8" cy="1156.5" r="3.25" fill="#5c539a" stroke="#4a4284" stroke-width="0.6"/>
<circle cx="640.2" cy="1164" r="3.25" fill="#1cb3a3" stroke="#16927f" stroke-width="0.6"/>
<circle cx="573.2" cy="1168" r="3.25" fill="#1cb3a3" stroke="#16927f" stroke-width="0.6"/>
<circle cx="707.5" cy="1172" r="3.25" fill="#1cb3a3" stroke="#16927f" stroke-width="0.6"/>
<circle cx="707.5" cy="1175.7" r="3.25" fill="#1cb3a3" stroke="#16927f" stroke-width="0.6"/>
<circle cx="707.5" cy="1179.7" r="3.25" fill="#5c539a" stroke="#4a4284" stroke-width="0.6"/>
<circle cx="707.5" cy="1183.3" r="3.25" fill="#5c539a" stroke="#4a4284" stroke-width="0.6"/>
<circle cx="573.2" cy="1185.7" r="3.25" fill="#5c539a" stroke="#4a4284" stroke-width="0.6"/>
<circle cx="573.2" cy="1191" r="3.25" fill="#5c539a" stroke="#4a4284" stroke-width="0.6"/>
<circle cx="573.2" cy="1195" r="3.25" fill="#1cb3a3" stroke="#16927f" stroke-width="0.6"/>
<circle cx="573.2" cy="1199" r="3.25" fill="#5c539a" stroke="#4a4284" stroke-width="0.6"/>
<circle cx="640.2" cy="1201.7" r="3.25" fill="#1cb3a3" stroke="#16927f" stroke-width="0.6"/>
<circle cx="707.5" cy="1205.7" r="3.25" fill="#1cb3a3" stroke="#16927f" stroke-width="0.6"/>
<circle cx="707.5" cy="1209.7" r="3.25" fill="#1cb3a3" stroke="#16927f" stroke-width="0.6"/>
<circle cx="640.2" cy="1213.7" r="3.25" fill="#5c539a" stroke="#4a4284" stroke-width="0.6"/>
<circle cx="774" cy="1217" r="3.25" fill="#1cb3a3" stroke="#16927f" stroke-width="0.6"/>
<circle cx="707.5" cy="1221" r="3.25" fill="#1cb3a3" stroke="#16927f" stroke-width="0.6"/>
<circle cx="640.2" cy="1224.3" r="3.25" fill="#5c539a" stroke="#4a4284" stroke-width="0.6"/>
<circle cx="842.8" cy="1228.3" r="3.25" fill="#5c539a" stroke="#4a4284" stroke-width="0.6"/>
<circle cx="640.2" cy="1232.3" r="3.25" fill="#1cb3a3" stroke="#16927f" stroke-width="0.6"/>
<circle cx="573.2" cy="1236.3" r="3.25" fill="#1cb3a3" stroke="#16927f" stroke-width="0.6"/>
<circle cx="774" cy="1239.6" r="3.25" fill="#5c539a" stroke="#4a4284" stroke-width="0.6"/>
<circle cx="774" cy="1243.4" r="3.25" fill="#5c539a" stroke="#4a4284" stroke-width="0.6"/>
<circle cx="640.2" cy="1247.8" r="3.25" fill="#1cb3a3" stroke="#16927f" stroke-width="0.6"/>
<circle cx="573.2" cy="1251.5" r="3.25" fill="#1cb3a3" stroke="#16927f" stroke-width="0.6"/>
<circle cx="573.2" cy="1255" r="3.25" fill="#1cb3a3" stroke="#16927f" stroke-width="0.6"/>
<circle cx="573.2" cy="1258.8" r="3.25" fill="#5c539a" stroke="#4a4284" stroke-width="0.6"/>
<circle cx="640.2" cy="1262.8" r="3.25" fill="#1cb3a3" stroke="#16927f" stroke-width="0.6"/>
<circle cx="707.5" cy="1266.5" r="3.25" fill="#1cb3a3" stroke="#16927f" stroke-width="0.6"/>
<circle cx="573.2" cy="1270" r="3.25" fill="#5c539a" stroke="#4a4284" stroke-width="0.6"/>
<circle cx="573.2" cy="1274" r="3.25" fill="#1cb3a3" stroke="#16927f" stroke-width="0.6"/>
<circle cx="573.2" cy="1278" r="3.25" fill="#5c539a" stroke="#4a4284" stroke-width="0.6"/>
<circle cx="573.2" cy="1281.5" r="3.25" fill="#5c539a" stroke="#4a4284" stroke-width="0.6"/>
<circle cx="573.2" cy="1285.5" r="3.25" fill="#1cb3a3" stroke="#16927f" stroke-width="0.6"/>
<circle cx="640.2" cy="1289" r="3.25" fill="#1cb3a3" stroke="#16927f" stroke-width="0.6"/>
<circle cx="640.2" cy="1293" r="3.25" fill="#5c539a" stroke="#4a4284" stroke-width="0.6"/>
<circle cx="640.2" cy="1296.6" r="3.25" fill="#5c539a" stroke="#4a4284" stroke-width="0.6"/>
<circle cx="640.2" cy="1300.4" r="3.25" fill="#5c539a" stroke="#4a4284" stroke-width="0.6"/>
<circle cx="640.2" cy="1304.3" r="3.25" fill="#1cb3a3" stroke="#16927f" stroke-width="0.6"/>
<circle cx="640.2" cy="1308.3" r="3.25" fill="#5c539a" stroke="#4a4284" stroke-width="0.6"/>
<circle cx="707.5" cy="1312.3" r="3.25" fill="#5c539a" stroke="#4a4284" stroke-width="0.6"/>
<circle cx="707.5" cy="1316.1" r="3.25" fill="#5c539a" stroke="#4a4284" stroke-width="0.6"/>
<circle cx="707.5" cy="1319.9" r="3.25" fill="#5c539a" stroke="#4a4284" stroke-width="0.6"/>
<circle cx="707.5" cy="1323.7" r="3.25" fill="#1cb3a3" stroke="#16927f" stroke-width="0.6"/>
<circle cx="774" cy="1327.5" r="3.25" fill="#5c539a" stroke="#4a4284" stroke-width="0.6"/>
<circle cx="842.8" cy="1331.2" r="3.25" fill="#1cb3a3" stroke="#16927f" stroke-width="0.6"/>
<circle cx="573.2" cy="1334.6" r="3.25" fill="#1cb3a3" stroke="#16927f" stroke-width="0.6"/>
<circle cx="640.2" cy="1338.3" r="3.25" fill="#5c539a" stroke="#4a4284" stroke-width="0.6"/>
<circle cx="640.2" cy="1341.9" r="3.25" fill="#1cb3a3" stroke="#16927f" stroke-width="0.6"/>
<circle cx="573.2" cy="1345.7" r="3.25" fill="#1cb3a3" stroke="#16927f" stroke-width="0.6"/>
<circle cx="707.5" cy="1349.6" r="3.25" fill="#1cb3a3" stroke="#16927f" stroke-width="0.6"/>
<circle cx="707.5" cy="1353.6" r="3.25" fill="#5c539a" stroke="#4a4284" stroke-width="0.6"/>
<circle cx="573.2" cy="1357" r="3.25" fill="#1cb3a3" stroke="#16927f" stroke-width="0.6"/>
<circle cx="573.2" cy="1360.6" r="3.25" fill="#1cb3a3" stroke="#16927f" stroke-width="0.6"/>
<circle cx="640.2" cy="1364.5" r="3.25" fill="#1cb3a3" stroke="#16927f" stroke-width="0.6"/>
<circle cx="640.2" cy="1368.3" r="3.25" fill="#1cb3a3" stroke="#16927f" stroke-width="0.6"/>
<circle cx="640.2" cy="1371.9" r="3.25" fill="#1cb3a3" stroke="#16927f" stroke-width="0.6"/>
<circle cx="640.2" cy="1375.6" r="3.25" fill="#1cb3a3" stroke="#16927f" stroke-width="0.6"/>
<circle cx="640.2" cy="1379.2" r="3.25" fill="#1cb3a3" stroke="#16927f" stroke-width="0.6"/>
<circle cx="573.2" cy="1376.2" r="3.25" fill="#5c539a" stroke="#4a4284" stroke-width="0.6"/>
<circle cx="707.5" cy="1384" r="3.25" fill="#5c539a" stroke="#4a4284" stroke-width="0.6"/>
<circle cx="640.2" cy="1387.6" r="3.25" fill="#1cb3a3" stroke="#16927f" stroke-width="0.6"/>
<circle cx="573.2" cy="1391.2" r="3.25" fill="#1cb3a3" stroke="#16927f" stroke-width="0.6"/>
<circle cx="640.2" cy="1395.6" r="3.25" fill="#5c539a" stroke="#4a4284" stroke-width="0.6"/>
<circle cx="573.2" cy="1399.2" r="3.25" fill="#1cb3a3" stroke="#16927f" stroke-width="0.6"/>
<circle cx="369.5" cy="1403" r="3.25" fill="#5c539a" stroke="#4a4284" stroke-width="0.6"/>
<circle cx="437.3" cy="1405.7" r="3.25" fill="#5c539a" stroke="#4a4284" stroke-width="0.6"/>
<circle cx="437.3" cy="1410.5" r="3.25" fill="#5c539a" stroke="#4a4284" stroke-width="0.6"/>
<circle cx="640.2" cy="1413.7" r="3.25" fill="#1cb3a3" stroke="#16927f" stroke-width="0.6"/>
<circle cx="235.5" cy="1452" r="3.4" fill="#000" stroke="#000" stroke-width="0.6"/>
<circle cx="101.7" cy="1418.3" r="3.4" fill="#000" stroke="#000" stroke-width="0.6"/>
<circle cx="640.2" cy="1447.5" r="3.25" fill="#1cb3a3" stroke="#16927f" stroke-width="0.6"/>
<circle cx="774" cy="1444" r="3.25" fill="#1cb3a3" stroke="#16927f" stroke-width="0.6"/>
<circle cx="910.6" cy="1436.8" r="3.25" fill="#1cb3a3" stroke="#16927f" stroke-width="0.6"/>
<circle cx="977" cy="1440.8" r="3.25" fill="#1cb3a3" stroke="#16927f" stroke-width="0.6"/>
<circle cx="842.8" cy="1421" r="3.25" fill="#1cb3a3" stroke="#16927f" stroke-width="0.6"/>
<circle cx="842.8" cy="1424.8" r="3.25" fill="#1cb3a3" stroke="#16927f" stroke-width="0.6"/>
<circle cx="842.8" cy="1428.6" r="3.25" fill="#1cb3a3" stroke="#16927f" stroke-width="0.6"/>
<circle cx="842.8" cy="1431.2" r="3.25" fill="#1cb3a3" stroke="#16927f" stroke-width="0.6"/>
<circle cx="1045" cy="1433" r="3.25" fill="#1cb3a3" stroke="#16927f" stroke-width="0.6"/>
</g>
</svg></body></html>
